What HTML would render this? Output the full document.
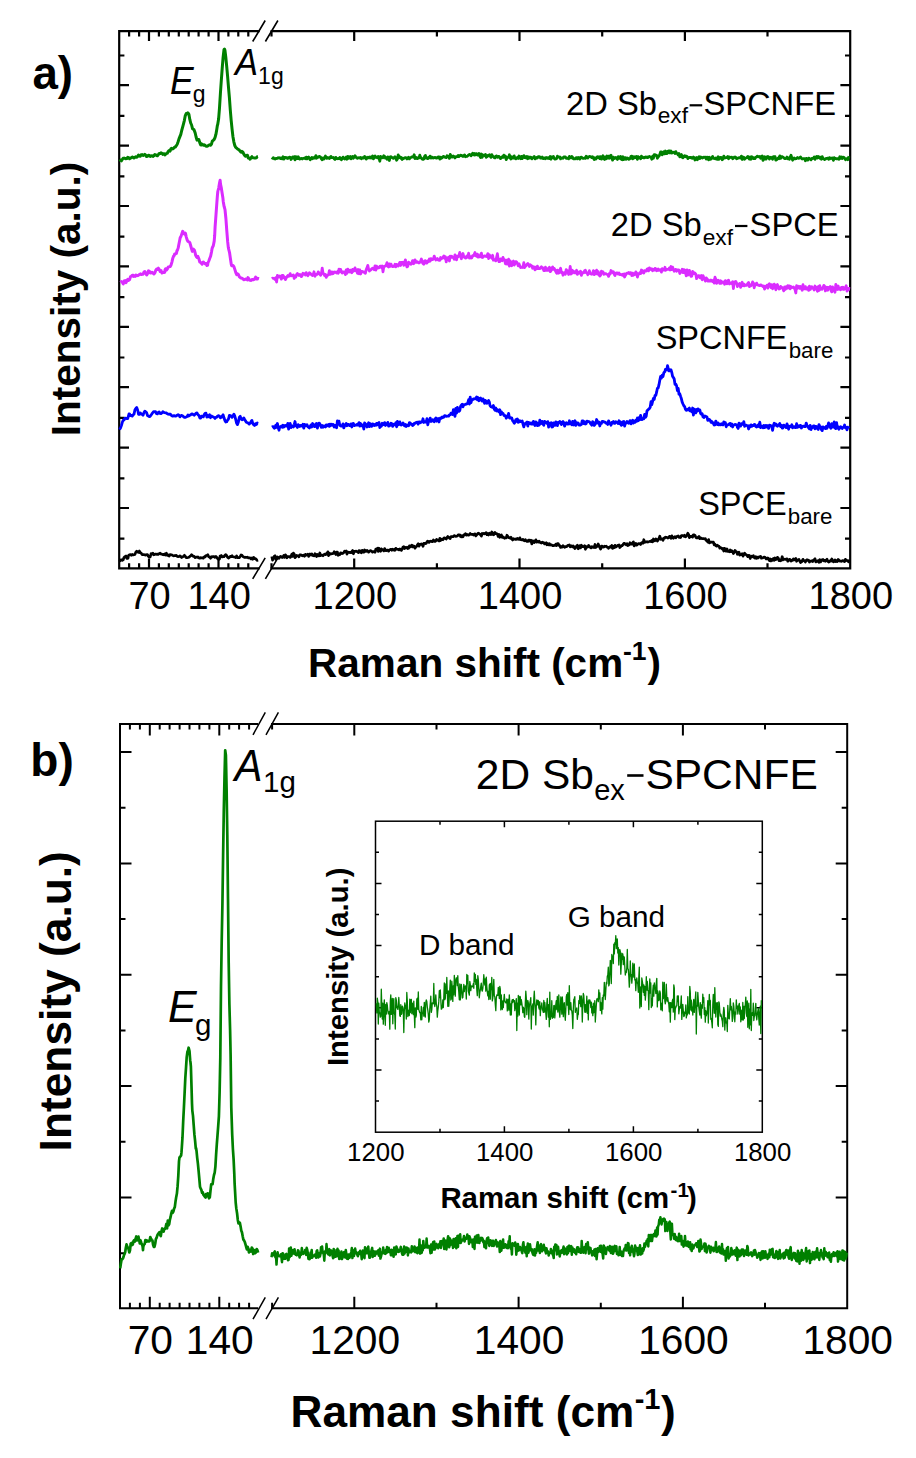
<!DOCTYPE html>
<html><head><meta charset="utf-8"><style>
html,body{margin:0;padding:0;background:#fff;}
svg{display:block;font-family:"Liberation Sans", sans-serif;}
</style></head><body>
<svg width="916" height="1458" viewBox="0 0 916 1458">
<rect width="916" height="1458" fill="#fff"/>
<path d="M258.6,31.2 H119.2 V568.4 H258.6 M271.6,31.2 H850.2 V568.4 H271.6" fill="none" stroke="#000" stroke-width="2.2" stroke-linecap="square"/>
<path d="M149.0,31.2 v9.8 M149.0,568.4 v-9.8 M218.5,31.2 v9.8 M218.5,568.4 v-9.8 M354.2,31.2 v9.8 M354.2,568.4 v-9.8 M519.5,31.2 v9.8 M519.5,568.4 v-9.8 M684.9,31.2 v9.8 M684.9,568.4 v-9.8 M129.1,31.2 v5.2 M129.1,568.4 v-5.2 M139.1,31.2 v5.2 M139.1,568.4 v-5.2 M158.9,31.2 v5.2 M158.9,568.4 v-5.2 M168.8,31.2 v5.2 M168.8,568.4 v-5.2 M178.8,31.2 v5.2 M178.8,568.4 v-5.2 M188.7,31.2 v5.2 M188.7,568.4 v-5.2 M198.6,31.2 v5.2 M198.6,568.4 v-5.2 M208.6,31.2 v5.2 M208.6,568.4 v-5.2 M228.4,31.2 v5.2 M228.4,568.4 v-5.2 M238.3,31.2 v5.2 M238.3,568.4 v-5.2 M248.3,31.2 v5.2 M248.3,568.4 v-5.2 M271.5,31.2 v5.2 M271.5,568.4 v-5.2 M436.9,31.2 v5.2 M436.9,568.4 v-5.2 M602.2,31.2 v5.2 M602.2,568.4 v-5.2 M767.5,31.2 v5.2 M767.5,568.4 v-5.2 M119.2,85.2 h9.8 M850.2,85.2 h-9.8 M119.2,145.6 h9.8 M850.2,145.6 h-9.8 M119.2,206.0 h9.8 M850.2,206.0 h-9.8 M119.2,266.4 h9.8 M850.2,266.4 h-9.8 M119.2,326.8 h9.8 M850.2,326.8 h-9.8 M119.2,387.2 h9.8 M850.2,387.2 h-9.8 M119.2,447.6 h9.8 M850.2,447.6 h-9.8 M119.2,508.0 h9.8 M850.2,508.0 h-9.8 M119.2,55.5 h5.2 M850.2,55.5 h-5.2 M119.2,115.9 h5.2 M850.2,115.9 h-5.2 M119.2,176.3 h5.2 M850.2,176.3 h-5.2 M119.2,236.7 h5.2 M850.2,236.7 h-5.2 M119.2,297.1 h5.2 M850.2,297.1 h-5.2 M119.2,357.5 h5.2 M850.2,357.5 h-5.2 M119.2,417.9 h5.2 M850.2,417.9 h-5.2 M119.2,478.3 h5.2 M850.2,478.3 h-5.2 M119.2,538.7 h5.2 M850.2,538.7 h-5.2" fill="none" stroke="#000" stroke-width="2.2"/>
<path d="M252.7,41.5 L265.2,20.5 M265.4,41.5 L277.9,20.5 M252.7,578.9 L265.2,557.9 M265.4,578.9 L277.9,557.9" fill="none" stroke="#000" stroke-width="1.6"/>
<polyline points="119.6,159.5 120.5,160.2 121.4,160.8 122.3,159.4 123.2,158.3 124.1,158.1 125.0,158.5 125.9,158.7 126.8,158.6 127.7,157.3 128.6,157.7 129.5,158.7 130.4,158.0 131.3,157.8 132.2,157.0 133.1,157.3 134.0,157.9 134.9,157.4 135.8,156.7 136.7,157.2 137.6,156.6 138.5,155.1 139.4,155.9 140.3,156.3 141.2,154.8 142.1,154.6 143.0,155.5 143.9,155.2 144.8,154.4 145.7,155.2 146.6,156.6 147.5,156.4 148.4,155.2 149.3,155.5 150.2,156.4 151.1,155.9 152.0,155.7 152.9,156.4 153.8,155.8 154.7,154.6 155.6,154.8 156.5,155.4 157.4,155.8 158.3,154.7 159.2,153.4 160.1,153.6 161.0,152.7 161.9,153.2 162.8,154.4 163.7,153.7 164.6,154.0 165.0,154.9 165.5,154.3 166.4,153.6 167.3,153.2 168.2,151.5 169.1,150.5 170.0,151.1 170.9,148.9 171.5,148.3 171.8,149.1 172.7,148.9 173.6,148.3 174.5,147.3 175.4,147.1 175.9,146.1 176.3,145.7 177.2,144.3 178.1,141.8 179.0,138.9 179.9,136.6 180.8,134.4 181.7,130.5 182.5,127.6 183.5,123.9 184.4,120.3 185.2,115.9 186.2,113.6 187.1,113.8 187.9,112.8 188.9,114.3 189.8,119.4 190.7,123.0 191.6,125.0 192.5,128.7 193.4,129.3 193.9,129.4 194.3,130.5 195.2,133.0 196.1,137.0 197.0,140.1 197.8,139.5 198.8,139.5 199.7,142.4 200.6,144.8 201.0,145.0 201.5,143.9 202.4,144.3 203.3,145.3 204.2,145.3 204.5,144.9 205.1,145.4 206.0,146.3 206.9,146.2 207.8,146.0 208.7,145.2 209.6,144.7 210.5,145.3 211.4,144.3 212.3,141.2 213.2,140.4 214.1,139.5 215.0,137.6 215.9,134.4 216.8,129.2 217.4,125.3 217.7,124.6 218.6,119.1 219.5,107.8 220.4,93.5 221.3,80.5 221.8,73.9 222.2,68.4 223.1,57.4 224.0,49.6 224.5,49.1 224.9,50.0 225.8,57.1 226.7,66.3 227.6,76.4 228.5,87.4 229.4,97.7 230.3,110.0 231.2,120.7 232.1,129.4 232.7,134.6 233.0,137.0 233.9,142.1 234.8,145.5 235.7,147.4 236.6,148.1 237.0,148.3 237.5,149.0 238.4,149.5 239.3,150.1 240.2,151.3 241.1,152.3 241.4,152.3 242.0,151.4 242.9,152.1 243.8,154.1 244.7,155.5 245.6,156.2 246.5,155.6 247.4,155.2 248.0,157.0 248.3,158.0 249.2,158.1 250.1,159.2 251.0,157.7 251.9,156.7 252.8,157.7 253.7,157.9 254.6,158.1 255.5,158.0 256.4,157.8 257.3,156.7 258.0,156.5" fill="none" stroke="#008000" stroke-width="3.0" stroke-linejoin="round"/>
<polyline points="271.8,157.5 272.6,158.3 273.4,157.7 274.2,158.8 275.0,159.0 275.8,158.5 276.6,158.5 277.4,158.3 278.2,157.7 279.0,158.0 279.8,157.7 280.6,158.6 281.4,158.2 282.2,158.8 283.0,156.8 283.8,159.1 284.6,157.4 285.4,157.4 286.2,158.0 287.0,157.6 287.8,158.4 288.6,157.6 289.4,157.1 290.2,157.3 291.0,159.5 291.8,158.2 292.6,157.0 293.4,158.1 294.2,156.6 295.0,159.9 295.8,156.6 296.6,158.6 297.4,158.7 298.2,156.7 299.0,158.4 299.8,159.1 300.6,158.6 301.4,158.4 302.2,159.0 303.0,158.3 303.8,158.4 304.6,158.0 305.4,158.7 306.2,157.1 307.0,158.9 307.8,157.6 308.6,157.0 309.4,158.4 310.2,159.7 311.0,159.0 311.8,157.5 312.6,158.7 313.4,157.6 314.2,157.9 315.0,158.1 315.8,155.7 316.6,158.2 317.4,157.0 318.2,157.3 319.0,156.5 319.8,156.5 320.6,157.1 321.4,158.8 322.2,159.7 323.0,158.0 323.8,159.1 324.6,157.7 325.4,156.0 326.2,158.1 327.0,158.4 327.8,157.5 328.6,158.2 329.4,158.5 330.2,157.0 331.0,156.4 331.8,157.7 332.6,157.7 333.4,157.5 334.2,158.8 335.0,159.6 335.8,157.4 336.6,158.5 337.4,158.8 338.2,158.5 339.0,158.8 339.8,157.4 340.6,158.5 341.4,159.8 342.2,158.6 343.0,157.1 343.8,158.3 344.6,159.0 345.4,158.1 346.2,157.1 347.0,159.2 347.8,156.4 348.6,158.2 349.4,157.7 350.2,156.5 351.0,158.9 351.8,158.0 352.6,156.5 353.4,158.2 354.2,157.2 355.0,155.7 355.8,156.9 356.6,157.9 357.4,158.3 358.2,157.8 359.0,157.7 359.8,158.1 360.6,157.4 361.4,158.8 362.2,157.7 363.0,157.9 363.8,158.1 364.6,156.5 365.4,156.9 366.2,159.1 367.0,157.9 367.8,157.3 368.6,157.9 369.4,157.1 370.2,157.9 371.0,156.9 371.8,157.9 372.6,156.0 373.4,158.9 374.2,157.1 375.0,156.0 375.8,157.4 376.6,157.2 377.4,157.8 378.2,156.5 379.0,158.0 379.8,161.2 380.6,156.3 381.4,157.9 382.2,157.3 383.0,157.8 383.8,155.8 384.6,156.4 385.4,158.1 386.2,157.6 387.0,159.2 387.8,156.9 388.6,157.8 389.4,160.5 390.2,156.8 391.0,156.7 391.8,157.6 392.6,157.6 393.4,158.4 394.2,157.7 395.0,156.8 395.8,157.8 396.6,160.2 397.4,158.9 398.2,154.8 399.0,157.5 399.8,156.7 400.6,158.2 401.4,157.4 402.2,159.5 403.0,158.5 403.8,158.5 404.6,157.8 405.4,157.6 406.2,157.9 407.0,158.9 407.8,158.1 408.6,157.2 409.4,158.9 410.2,157.8 411.0,157.5 411.8,156.8 412.6,157.0 413.4,157.0 414.2,154.8 415.0,158.6 415.8,158.2 416.6,157.4 417.4,158.6 418.2,158.0 419.0,158.0 419.8,155.1 420.6,157.4 421.4,158.1 422.2,159.2 423.0,159.4 423.8,159.0 424.6,156.4 425.4,155.4 426.2,158.2 427.0,157.6 427.8,158.6 428.6,157.5 429.4,157.8 430.0,156.1 431.0,158.0 431.8,157.1 432.6,157.9 433.4,158.0 434.2,157.4 435.0,157.8 435.8,157.5 436.6,158.2 437.4,158.0 438.2,156.9 439.0,156.8 439.8,159.1 440.6,157.2 441.4,158.3 442.2,157.6 443.0,156.6 443.8,156.4 444.6,157.2 445.4,157.3 446.2,157.6 447.0,155.7 447.8,156.3 448.6,156.7 449.4,158.4 450.2,154.4 451.0,157.1 451.8,156.1 452.6,157.0 453.4,156.0 454.2,156.8 455.0,157.9 455.8,156.7 456.6,156.7 457.4,156.6 458.2,155.4 459.0,156.6 459.8,155.8 460.6,155.1 461.4,155.8 462.2,155.6 463.0,156.4 463.8,155.5 464.6,154.9 465.4,156.8 466.2,156.3 467.0,156.4 467.8,155.7 468.6,154.9 469.4,154.5 470.2,154.6 471.0,155.8 471.8,154.9 472.6,153.3 473.4,154.8 474.2,153.4 475.0,155.1 475.8,153.7 476.6,153.7 477.4,155.2 478.2,155.1 479.0,153.5 479.8,156.0 480.6,157.5 481.4,154.0 482.2,157.4 483.0,155.0 483.8,155.2 484.6,155.6 485.4,154.5 486.2,157.3 487.0,156.6 487.8,155.4 488.6,155.9 489.4,154.7 490.0,156.0 491.0,157.3 491.8,154.7 492.6,156.0 493.4,156.6 494.2,157.6 495.0,157.9 495.8,156.2 496.6,155.9 497.4,157.2 498.2,156.4 499.0,156.5 499.8,157.9 500.6,158.6 501.4,157.2 502.2,156.8 503.0,157.6 503.8,155.2 504.6,157.1 505.4,156.1 506.2,159.6 507.0,157.9 507.8,157.4 508.6,157.1 509.4,154.8 510.2,158.1 511.0,159.0 511.8,156.7 512.6,158.1 513.4,158.2 514.2,155.9 515.0,158.4 515.8,158.9 516.6,157.8 517.4,157.5 518.2,158.4 519.0,156.0 519.8,157.7 520.6,158.7 521.4,156.4 522.2,158.6 523.0,157.2 523.8,155.6 524.6,157.5 525.4,156.7 526.2,158.0 527.0,156.5 527.8,158.7 528.6,156.9 529.4,158.0 530.2,157.1 531.0,157.4 531.8,158.9 532.6,157.9 533.4,157.3 534.2,156.5 535.0,158.9 535.8,158.5 536.6,157.4 537.4,158.0 538.2,156.7 539.0,156.7 539.8,156.9 540.6,158.1 541.4,158.0 542.2,157.0 543.0,158.5 543.8,158.5 544.6,157.9 545.4,158.8 546.2,157.5 547.0,157.7 547.8,158.3 548.6,157.7 549.4,158.6 550.2,156.5 551.0,159.2 551.8,157.0 552.6,157.6 553.4,156.4 554.2,158.4 555.0,159.1 555.8,158.9 556.6,158.6 557.4,156.2 558.2,157.0 559.0,157.3 559.8,156.9 560.6,158.9 561.4,158.0 562.2,157.8 563.0,158.3 563.8,156.8 564.6,156.9 565.4,156.9 566.2,158.3 567.0,158.1 567.8,158.4 568.6,158.9 569.4,156.4 570.2,157.2 571.0,157.9 571.8,156.5 572.6,157.3 573.4,158.8 574.2,158.9 575.0,158.9 575.8,157.8 576.6,157.6 577.4,158.9 578.2,157.4 579.0,158.1 579.8,159.1 580.6,157.4 581.4,157.2 582.2,157.8 583.0,158.4 583.8,158.3 584.6,158.0 585.4,158.4 586.2,156.2 587.0,156.9 587.8,158.0 588.6,156.9 589.4,156.5 590.2,156.6 591.0,156.9 591.8,157.6 592.6,156.8 593.4,158.0 594.2,159.5 595.0,157.7 595.8,159.1 596.6,158.1 597.4,156.7 598.2,157.5 599.0,156.8 599.8,158.6 600.6,156.6 601.4,159.1 602.2,158.4 603.0,155.8 603.8,158.6 604.6,159.4 605.4,157.0 606.2,158.8 607.0,156.0 607.8,158.1 608.6,156.1 609.4,158.3 610.2,156.0 611.0,155.2 611.8,158.2 612.6,160.1 613.4,157.2 614.2,158.6 615.0,157.9 615.8,157.5 616.6,158.4 617.4,159.4 618.2,156.6 619.0,158.4 619.8,158.1 620.6,156.4 621.4,159.4 622.2,159.7 623.0,156.8 623.8,159.5 624.6,157.9 625.4,157.6 626.2,159.3 627.0,158.0 627.8,158.1 628.6,159.3 629.4,159.1 630.0,158.7 631.0,156.4 631.8,156.2 632.6,158.9 633.4,156.8 634.2,157.9 635.0,156.7 635.8,157.5 636.6,156.4 637.4,159.3 638.2,156.6 639.0,157.5 639.8,157.4 640.6,158.8 641.4,156.1 642.2,157.5 643.0,157.2 643.8,157.9 644.6,157.8 645.4,156.9 646.2,157.5 647.0,156.9 647.8,157.6 648.6,157.0 649.4,156.4 650.2,157.0 651.0,157.3 651.8,159.2 652.6,156.3 653.0,157.1 653.4,158.2 654.2,154.6 655.0,154.7 655.8,155.1 656.6,155.9 657.4,158.2 658.2,155.8 659.0,156.3 659.8,154.5 660.6,151.9 661.4,151.8 662.2,154.8 663.0,153.6 663.8,151.8 664.6,153.9 665.4,151.0 666.2,153.5 667.0,153.6 667.8,151.3 668.6,150.9 669.0,152.8 669.4,150.9 670.2,152.9 671.0,151.0 671.8,153.1 672.6,152.6 673.4,152.3 674.2,152.1 675.0,153.5 675.8,151.6 676.6,153.5 677.4,153.7 678.2,155.1 679.0,153.5 679.8,156.8 680.6,155.1 681.4,154.5 682.2,157.3 683.0,157.8 683.8,156.2 684.6,155.7 685.4,156.7 686.0,156.1 687.0,156.6 687.8,158.6 688.6,157.5 689.4,157.3 690.2,157.6 691.0,157.3 691.8,158.2 692.6,158.3 693.4,157.1 694.2,157.7 695.0,160.0 695.8,158.1 696.6,157.5 697.4,159.8 698.2,157.8 699.0,156.7 699.8,158.5 700.6,156.9 701.4,157.3 702.2,158.1 703.0,157.7 703.8,157.1 704.6,157.3 705.4,157.2 706.2,159.0 707.0,157.1 707.8,157.3 708.6,159.9 709.4,157.3 710.2,159.3 711.0,159.2 711.8,157.7 712.6,156.4 713.4,158.3 714.2,158.5 715.0,158.8 715.8,157.9 716.6,159.1 717.4,159.3 718.2,156.8 719.0,159.3 719.8,158.1 720.6,157.3 721.4,157.6 722.2,159.8 723.0,158.9 723.8,156.1 724.6,158.0 725.4,157.8 726.2,157.7 727.0,157.4 727.8,156.5 728.6,158.8 729.4,157.0 730.2,157.5 731.0,157.3 731.8,157.2 732.6,158.7 733.4,158.3 734.2,157.2 735.0,157.0 735.8,157.5 736.6,158.9 737.4,158.1 738.2,158.2 739.0,157.6 739.8,157.7 740.6,158.1 741.4,156.1 742.2,159.5 743.0,157.1 743.8,157.4 744.6,159.3 745.4,158.2 746.2,158.0 747.0,157.4 747.8,156.4 748.6,158.1 749.4,159.1 750.2,157.0 751.0,159.3 751.8,156.8 752.6,157.2 753.4,158.5 754.2,157.9 755.0,158.6 755.8,157.2 756.6,156.9 757.4,156.1 758.2,156.7 759.0,156.9 759.8,156.5 760.6,158.3 761.4,157.3 762.2,156.0 763.0,160.4 763.8,157.1 764.6,156.7 765.4,159.2 766.2,159.1 767.0,156.8 767.8,156.5 768.6,157.0 769.4,159.1 770.2,157.7 771.0,157.2 771.8,157.9 772.6,159.2 773.4,156.6 774.2,157.6 775.0,156.6 775.8,160.2 776.6,159.8 777.4,158.9 778.2,157.9 779.0,158.7 779.8,155.9 780.6,158.3 781.4,156.7 782.2,156.7 783.0,157.3 783.8,157.7 784.6,158.6 785.4,158.7 786.2,158.3 787.0,157.1 787.8,158.7 788.6,157.9 789.4,159.2 790.2,157.1 791.0,155.3 791.8,157.6 792.6,160.2 793.4,158.5 794.2,157.9 795.0,158.9 795.8,158.6 796.6,158.5 797.4,157.5 798.2,158.1 799.0,158.3 799.8,157.4 800.6,157.0 801.4,158.2 802.2,159.0 803.0,158.7 803.8,158.6 804.6,158.6 805.4,160.7 806.2,158.4 807.0,159.1 807.8,160.1 808.6,158.2 809.4,158.4 810.2,159.2 811.0,159.8 811.8,158.4 812.6,158.5 813.4,158.2 814.2,156.9 815.0,159.3 815.8,157.9 816.6,156.4 817.4,158.0 818.2,156.4 819.0,157.1 819.8,158.2 820.6,157.2 821.4,159.2 822.2,156.7 823.0,158.4 823.8,158.7 824.6,159.6 825.4,159.1 826.2,158.4 827.0,158.3 827.8,158.1 828.6,159.3 829.4,157.6 830.2,158.7 831.0,158.1 831.8,158.5 832.6,158.0 833.4,160.4 834.2,157.6 835.0,158.5 835.8,158.5 836.6,158.9 837.4,158.7 838.2,158.7 839.0,159.2 839.8,156.8 840.6,158.3 841.4,157.0 842.2,158.5 843.0,157.1 843.8,157.3 844.6,158.2 845.4,159.7 846.2,158.9 847.0,158.6 847.8,159.7 848.6,157.4 849.0,156.2" fill="none" stroke="#008000" stroke-width="2.8" stroke-linejoin="round"/>
<polyline points="120.6,282.6 121.5,281.6 122.4,282.4 123.3,283.9 124.2,280.9 125.1,280.6 126.0,282.7 126.9,280.8 127.8,279.2 128.7,280.3 129.6,279.6 130.5,276.6 131.4,276.3 132.3,275.2 133.2,275.3 133.6,276.4 134.1,276.1 135.0,276.4 135.9,275.0 136.8,275.7 137.7,275.6 138.6,275.1 139.5,274.5 140.4,273.9 141.3,274.6 142.2,274.2 143.1,274.2 144.0,272.1 144.9,271.5 145.8,273.5 146.7,275.0 147.6,273.4 148.5,270.8 149.4,271.3 150.3,272.9 151.2,272.9 152.0,272.2 153.0,273.1 153.9,274.0 154.8,273.0 155.7,270.4 156.6,269.1 157.5,269.4 158.4,268.2 159.3,269.6 160.2,271.5 161.1,270.6 161.4,271.9 162.0,273.0 162.9,272.4 163.8,272.6 164.7,272.3 165.0,269.9 165.6,268.7 166.5,270.1 167.4,268.9 168.3,266.9 169.2,266.8 170.1,266.6 171.0,265.2 171.9,262.1 172.8,258.2 173.7,255.9 174.3,255.5 174.6,254.0 175.5,253.8 176.4,253.4 177.0,250.6 177.3,250.6 178.2,247.9 179.1,243.3 180.0,238.7 180.3,237.4 180.9,236.6 181.8,233.9 182.7,231.3 183.6,233.0 184.5,234.1 185.4,233.2 186.3,237.1 187.2,240.0 187.9,241.4 189.0,241.8 189.9,242.8 190.8,246.0 191.7,249.4 192.3,251.4 192.6,250.1 193.5,249.2 194.4,250.2 195.3,253.4 195.6,255.2 196.2,256.4 197.1,257.4 197.8,256.3 198.9,258.9 199.8,262.0 200.7,262.6 201.6,263.6 202.1,264.1 202.5,262.7 203.4,262.0 204.3,263.1 205.2,263.9 206.1,263.6 207.0,265.5 207.6,265.2 207.9,263.0 208.8,261.0 209.7,258.5 210.6,256.3 211.5,252.0 212.0,249.0 212.4,247.5 213.3,245.8 214.2,241.1 214.7,235.2 215.1,226.8 216.0,214.7 216.9,202.2 217.4,195.7 217.8,191.5 218.7,188.0 219.6,182.5 220.1,180.2 220.5,184.1 221.4,188.4 222.3,194.2 222.9,197.9 223.2,201.2 224.1,206.4 225.0,209.7 225.9,218.5 226.8,230.8 227.7,241.9 228.3,247.3 228.6,248.9 229.5,252.3 230.4,258.5 231.3,264.5 231.6,265.7 232.2,265.6 233.1,265.5 234.0,266.9 234.9,269.6 235.8,272.6 236.7,274.6 237.6,273.9 238.5,274.7 239.4,276.9 240.3,277.6 241.2,278.1 242.1,278.2 243.0,279.1 243.9,279.7 244.8,279.6 245.7,279.0 246.6,279.3 247.5,279.9 248.0,277.6 248.4,278.2 249.3,279.9 250.2,280.3 251.1,280.4 252.0,279.4 252.9,279.7 253.8,279.7 254.7,278.9 255.6,277.1 256.5,279.1 257.4,279.0 258.0,276.8" fill="none" stroke="#DA2CFF" stroke-width="3.0" stroke-linejoin="round"/>
<polyline points="271.8,278.6 272.6,278.1 273.4,278.3 274.2,278.6 275.0,279.4 275.8,277.7 276.6,282.0 277.4,275.3 278.2,277.3 279.0,276.3 279.8,275.9 280.6,277.2 281.4,279.1 282.2,275.4 283.0,275.3 283.8,277.7 284.6,277.3 285.4,279.6 286.2,278.0 287.0,276.6 287.8,275.6 288.6,276.4 289.4,275.7 290.2,273.6 291.0,275.9 291.8,275.5 292.6,275.3 293.4,274.9 294.2,278.5 295.0,276.7 295.8,277.0 296.6,274.4 297.4,273.6 298.2,274.8 299.0,275.6 299.8,274.5 300.6,274.7 301.4,276.6 302.2,275.4 303.0,273.2 303.8,274.1 304.6,273.6 305.4,275.0 306.2,272.6 307.0,274.2 307.8,275.7 308.6,274.5 309.4,272.8 310.2,273.2 311.0,274.4 311.8,275.0 312.6,275.5 313.4,273.8 314.0,271.8 315.0,276.3 315.8,274.4 316.6,274.5 317.4,274.3 318.2,271.9 319.0,273.1 319.8,274.0 320.6,275.3 321.4,273.6 322.2,268.1 323.0,273.0 323.8,273.9 324.6,275.5 325.4,274.4 326.2,277.4 327.0,275.5 327.8,275.3 328.6,274.6 329.4,270.6 330.2,274.3 331.0,273.9 331.8,271.9 332.6,273.8 333.4,273.4 334.2,271.9 335.0,272.4 335.8,272.1 336.6,272.9 337.4,271.7 338.2,273.3 339.0,269.1 339.8,271.8 340.6,269.4 341.4,271.4 342.2,273.0 343.0,272.1 343.8,271.9 344.6,272.1 345.4,274.6 346.2,270.0 347.0,273.3 347.8,269.2 348.6,270.9 349.4,271.9 350.2,270.1 351.0,271.9 351.8,272.7 352.6,269.4 353.4,271.2 354.2,270.6 355.0,267.9 355.8,270.8 356.6,269.7 357.4,273.3 358.2,269.5 359.0,273.8 359.8,269.9 360.6,274.0 361.4,271.6 362.2,271.3 363.0,271.9 363.8,272.0 364.6,272.7 365.4,273.2 366.2,269.6 367.0,267.9 367.8,265.4 368.6,269.2 369.4,271.0 370.2,270.3 371.0,269.7 371.8,268.8 372.6,268.2 373.4,268.7 374.2,269.7 375.0,265.9 375.8,270.1 376.6,266.2 377.4,268.3 378.2,267.4 379.0,267.7 379.8,266.4 380.6,266.1 381.4,267.5 382.2,265.9 383.0,271.8 383.8,266.8 384.6,266.2 385.4,266.2 386.2,265.2 387.0,262.7 387.8,266.3 388.6,267.1 389.4,263.9 390.2,266.3 391.0,264.1 391.8,266.0 392.6,266.5 393.4,266.5 394.2,266.3 395.0,264.2 395.8,266.8 396.6,264.4 397.4,265.6 398.2,266.0 399.0,264.2 399.8,262.4 400.6,265.5 401.4,262.4 402.2,262.6 403.0,262.1 403.8,265.3 404.6,263.5 405.4,259.8 406.2,264.7 407.0,266.9 407.8,266.3 408.6,262.1 409.4,263.1 410.2,263.7 411.0,264.2 411.8,262.7 412.6,260.6 413.4,263.7 414.2,263.3 415.0,259.9 415.8,261.4 416.6,262.4 417.4,261.8 418.2,262.6 419.0,263.0 419.8,262.4 420.6,261.2 421.4,259.0 422.2,262.2 423.0,263.5 423.8,264.3 424.6,260.8 425.4,260.7 426.2,263.1 427.0,263.0 427.8,261.0 428.6,261.6 429.4,259.0 430.2,261.1 431.0,258.6 431.8,259.7 432.6,259.6 433.4,259.0 434.2,256.1 435.0,258.2 435.8,260.0 436.6,259.3 437.4,258.6 438.2,259.9 439.0,260.3 439.8,260.4 440.6,257.5 441.4,258.8 442.2,258.1 443.0,257.1 443.8,256.0 444.6,258.3 445.4,256.8 446.2,261.9 447.0,258.0 447.8,257.7 448.6,257.3 449.4,261.0 450.2,256.2 451.0,257.4 451.8,256.3 452.6,257.3 453.4,257.3 454.2,259.2 455.0,254.8 455.8,257.1 456.6,259.8 457.4,256.2 458.2,256.6 459.0,255.4 459.8,252.4 460.6,256.6 461.4,258.7 462.0,255.9 463.0,253.5 463.8,257.0 464.6,256.6 465.4,258.2 466.2,258.0 467.0,255.9 467.8,257.0 468.6,253.2 469.4,258.1 470.2,256.5 471.0,258.0 471.8,257.9 472.6,255.6 473.4,255.8 474.2,254.5 475.0,252.5 475.8,255.8 476.6,256.2 477.4,254.1 478.0,257.2 479.0,256.2 479.8,256.8 480.6,254.8 481.4,253.1 482.2,257.5 483.0,257.3 483.8,256.2 484.6,255.8 485.4,256.2 486.2,256.5 487.0,256.0 487.8,253.6 488.6,258.5 489.4,254.8 490.2,257.0 491.0,257.2 491.8,258.3 492.6,255.3 493.4,260.2 494.2,259.4 495.0,259.8 495.8,260.8 496.6,257.4 497.4,253.7 498.2,259.7 499.0,261.6 499.8,261.6 500.6,258.9 501.4,259.9 502.2,260.7 503.0,257.4 503.8,259.5 504.6,259.8 505.4,263.8 506.2,260.2 507.0,264.2 507.8,261.8 508.6,259.2 509.4,266.0 510.2,260.8 511.0,263.6 511.8,265.7 512.6,262.1 513.4,261.1 514.2,265.1 515.0,263.6 515.8,261.6 516.6,262.0 517.4,263.4 518.2,265.9 519.0,263.9 519.8,265.7 520.6,267.5 521.4,267.1 522.2,267.5 523.0,267.3 523.8,262.7 524.6,267.6 525.4,266.3 526.2,265.7 527.0,264.2 527.8,263.5 528.6,264.5 529.4,266.5 530.2,264.7 531.0,265.4 531.8,265.9 532.6,268.2 533.4,266.7 534.2,267.1 535.0,269.8 535.8,267.1 536.6,268.8 537.4,266.1 538.2,268.6 539.0,268.4 539.8,268.6 540.6,267.6 541.4,266.8 542.2,268.2 543.0,268.0 543.8,270.7 544.6,270.6 545.4,267.2 546.2,270.4 547.0,268.6 547.8,270.4 548.6,268.9 549.4,267.3 550.2,271.7 551.0,270.8 551.8,268.1 552.6,267.0 553.4,269.4 554.2,268.4 555.0,269.9 555.8,271.7 556.6,273.2 557.4,270.2 558.2,273.2 559.0,272.9 559.8,270.2 560.6,268.2 561.4,272.6 562.2,272.2 563.0,275.2 563.8,273.7 564.6,272.6 565.4,274.2 566.2,269.6 567.0,271.8 567.8,271.0 568.6,274.5 569.4,272.6 570.2,266.4 571.0,274.0 571.8,270.2 572.6,273.1 573.4,271.0 574.2,272.3 575.0,273.0 575.8,272.2 576.6,270.3 577.4,274.4 578.2,272.7 579.0,272.0 579.8,273.3 580.6,271.2 581.4,275.4 582.2,272.6 583.0,272.8 583.8,272.8 584.6,270.7 585.4,270.3 586.2,272.7 587.0,273.0 587.8,274.7 588.6,273.2 589.4,270.7 590.0,273.4 591.0,274.0 591.8,274.3 592.6,273.2 593.4,270.6 594.2,274.7 595.0,271.5 595.8,273.8 596.6,270.2 597.4,274.2 598.2,271.6 599.0,274.8 599.8,276.1 600.6,275.1 601.4,271.2 602.2,271.6 603.0,271.8 603.8,274.4 604.6,273.9 605.4,273.6 606.2,273.9 607.0,274.4 607.8,274.6 608.6,276.4 609.4,273.5 610.2,274.0 611.0,270.5 611.8,271.4 612.6,272.5 613.4,271.7 614.2,274.2 615.0,275.6 615.8,273.1 616.6,273.0 617.4,273.0 618.2,274.1 619.0,273.0 619.8,274.7 620.6,274.5 621.4,274.6 622.2,275.3 623.0,274.1 623.8,274.2 624.6,277.0 625.0,273.9 625.4,275.4 626.2,274.1 627.0,273.2 627.8,273.1 628.6,272.5 629.4,273.8 630.2,272.7 631.0,272.9 631.8,275.6 632.6,273.2 633.4,275.2 634.2,273.6 635.0,274.5 635.8,271.9 636.6,273.0 637.4,277.1 638.2,273.9 639.0,274.1 639.8,272.6 640.6,273.6 641.4,270.0 642.2,270.4 643.0,272.5 643.8,273.0 644.6,270.8 645.0,271.2 645.4,270.8 646.2,271.0 647.0,269.2 647.8,268.7 648.6,270.9 649.4,267.9 650.2,269.1 651.0,269.5 651.8,268.8 652.6,270.8 653.4,269.5 654.2,270.1 655.0,268.4 655.8,268.7 656.6,270.7 657.4,270.4 658.2,268.9 659.0,270.2 659.8,269.8 660.6,269.7 661.4,272.1 662.2,268.7 663.0,270.0 663.8,270.0 664.6,268.9 665.0,267.3 665.4,270.4 666.2,269.7 667.0,269.4 667.8,269.4 668.6,269.4 669.4,267.9 670.2,270.0 671.0,266.5 671.8,269.6 672.6,267.2 673.4,269.3 674.2,271.2 675.0,269.7 675.8,269.4 676.6,271.2 677.4,270.0 678.2,269.9 679.0,270.1 679.8,273.5 680.6,272.1 681.4,272.0 682.2,269.3 683.0,272.6 683.8,269.6 684.6,272.8 685.4,270.3 686.2,275.8 687.0,269.8 687.8,275.0 688.6,274.5 689.4,270.4 690.2,273.3 691.0,276.4 691.8,276.1 692.6,271.5 693.4,273.7 694.2,272.8 695.0,273.3 695.8,274.2 696.6,278.7 697.4,276.0 698.2,275.7 699.0,275.7 699.8,277.7 700.6,278.0 701.4,275.5 702.2,279.8 703.0,275.7 703.8,277.3 704.6,278.8 705.4,281.1 706.2,277.8 707.0,279.1 707.8,281.1 708.6,280.1 709.4,281.2 710.2,281.2 711.0,280.1 711.8,280.9 712.6,281.6 713.4,280.2 714.2,283.1 715.0,277.2 715.8,279.2 716.6,283.4 717.4,281.8 718.2,280.2 719.0,282.1 719.8,283.4 720.6,280.8 721.4,283.2 722.2,281.8 723.0,281.9 723.8,282.1 724.6,284.3 725.4,280.6 726.2,282.0 727.0,283.8 727.8,280.7 728.6,280.2 729.4,284.0 730.2,283.1 731.0,283.0 731.8,283.6 732.6,281.8 733.4,288.5 734.2,281.9 735.0,283.0 735.8,281.4 736.6,283.2 737.4,286.6 738.2,284.1 739.0,285.1 739.8,283.4 740.6,287.4 741.4,284.7 742.2,282.3 743.0,285.8 743.8,284.0 744.6,285.7 745.4,285.0 746.2,285.3 747.0,285.1 747.8,283.4 748.6,282.5 749.4,286.7 750.2,284.9 751.0,285.7 751.8,284.5 752.6,281.9 753.4,283.2 754.2,287.8 755.0,284.2 755.8,284.9 756.6,283.1 757.4,284.8 758.2,285.1 759.0,285.4 759.8,285.7 760.6,284.8 761.4,285.0 762.2,286.0 763.0,286.6 763.8,285.9 764.6,289.1 765.4,286.5 766.2,286.5 767.0,285.2 767.8,288.1 768.6,284.6 769.4,283.7 770.2,284.8 771.0,287.6 771.8,284.6 772.6,288.8 773.4,286.6 774.2,284.1 775.0,286.3 775.8,289.8 776.6,285.3 777.4,284.6 778.2,287.7 779.0,289.1 779.8,288.7 780.6,286.4 781.4,287.3 782.2,287.6 783.0,289.1 783.8,290.8 784.6,287.0 785.4,289.4 786.2,286.7 787.0,288.3 787.8,285.7 788.6,286.1 789.0,288.1 789.4,285.9 790.2,288.9 791.0,286.5 791.8,287.6 792.6,287.4 793.4,287.0 794.2,287.9 795.0,289.5 795.8,293.0 796.6,285.7 797.4,288.3 798.2,287.5 799.0,286.3 799.8,288.4 800.6,286.5 801.4,287.9 802.2,290.2 803.0,284.7 803.8,288.6 804.6,288.9 805.4,286.6 806.2,289.1 807.0,288.9 807.8,287.7 808.6,290.4 809.4,286.2 810.2,289.5 811.0,288.1 811.8,286.7 812.6,288.2 813.4,287.9 814.2,290.0 815.0,286.0 815.8,288.3 816.6,287.8 817.4,291.3 818.2,286.7 819.0,290.5 819.8,285.7 820.6,289.3 821.4,288.4 822.0,289.3 823.0,287.5 823.8,285.4 824.6,286.0 825.4,290.9 826.2,289.0 827.0,287.2 827.8,290.2 828.6,287.4 829.4,287.4 830.2,286.6 831.0,290.6 831.8,291.9 832.6,287.0 833.4,289.1 834.2,290.2 835.0,292.2 835.8,284.5 836.6,288.8 837.4,289.6 838.2,286.0 839.0,289.2 839.8,288.8 840.6,289.7 841.4,287.4 842.2,289.1 843.0,287.3 843.8,289.4 844.6,288.6 845.4,287.6 846.2,285.8 847.0,291.0 847.8,290.1 848.6,289.7 849.0,287.0" fill="none" stroke="#DA2CFF" stroke-width="2.8" stroke-linejoin="round"/>
<polyline points="119.6,429.6 120.5,428.1 121.4,425.6 122.3,422.3 123.2,420.3 124.1,419.9 125.0,418.1 125.9,418.4 126.8,418.5 127.7,418.6 128.6,415.3 129.0,413.9 129.5,413.8 130.4,415.7 131.3,415.5 132.2,416.1 133.1,414.9 134.0,414.2 134.9,410.0 135.8,408.4 136.7,407.5 137.6,410.0 138.0,411.5 138.5,414.3 139.4,414.4 140.3,413.0 141.2,414.0 142.1,414.3 143.0,415.2 143.9,412.7 144.8,411.1 145.7,412.0 146.6,412.6 147.5,415.5 148.4,416.0 149.3,416.6 150.2,416.3 151.1,415.0 152.0,413.7 152.9,412.5 153.8,411.6 154.7,411.9 155.6,411.7 156.5,413.7 157.4,413.9 158.3,412.5 159.2,411.9 160.1,413.5 161.0,413.7 161.9,413.0 162.8,411.7 163.7,412.4 164.6,412.7 165.5,412.8 166.4,412.9 167.3,413.8 168.2,414.2 169.1,414.3 170.0,414.0 170.9,414.7 171.8,415.8 172.7,416.2 173.6,415.7 174.5,415.7 175.4,416.2 176.3,415.9 177.2,415.2 178.1,414.7 179.0,415.2 179.9,416.9 180.8,415.7 181.7,415.3 182.6,415.9 183.5,416.7 184.4,417.4 185.3,417.3 186.2,417.0 187.1,416.5 188.0,414.9 188.9,416.0 189.8,415.2 190.7,414.9 191.6,413.9 192.5,413.9 193.4,414.8 194.3,415.2 195.2,414.1 196.1,413.1 197.0,413.0 197.9,414.6 198.8,415.3 199.7,417.6 200.0,418.2 200.6,418.1 201.5,416.2 202.4,416.5 203.3,416.9 204.2,414.6 205.1,413.4 206.0,413.2 206.9,417.1 207.8,415.4 208.7,416.9 209.6,414.8 210.5,417.7 211.4,416.0 212.3,416.5 213.2,416.8 214.1,417.4 215.0,418.4 215.9,417.4 216.8,417.1 217.7,416.0 218.6,415.7 219.5,416.2 220.4,417.9 221.3,417.4 222.2,416.0 223.1,414.8 224.0,417.8 224.9,420.5 225.8,422.0 226.7,421.7 227.6,420.1 228.5,419.0 229.4,415.3 230.3,415.5 231.2,416.1 232.1,417.3 233.0,416.0 233.9,414.2 234.8,416.1 235.7,419.4 236.6,423.3 237.5,424.6 238.4,422.1 239.3,417.4 240.2,416.3 241.1,418.9 242.0,419.7 242.9,419.2 243.8,417.9 244.7,419.7 245.0,420.0 245.6,421.1 246.5,422.3 247.4,422.7 248.3,423.1 249.2,424.1 250.1,423.2 251.0,421.6 251.9,420.4 252.8,423.4 253.7,424.8 254.6,425.5 255.5,423.6 256.4,424.5 257.3,423.0 258.0,423.4" fill="none" stroke="#0000FF" stroke-width="2.8" stroke-linejoin="round"/>
<polyline points="271.8,427.1 272.6,426.7 273.4,426.7 274.2,428.2 275.0,427.7 275.8,425.2 276.6,427.4 277.4,423.5 278.2,427.5 279.0,430.2 279.8,426.8 280.6,426.8 281.4,426.1 282.2,427.3 283.0,425.3 283.8,427.0 284.6,425.6 285.4,425.4 286.2,426.2 287.0,425.9 287.8,423.4 288.6,429.1 289.4,426.2 290.2,423.4 291.0,427.6 291.8,425.9 292.6,426.2 293.4,427.0 294.2,424.6 295.0,421.5 295.8,425.7 296.6,426.3 297.4,427.4 298.2,424.7 299.0,425.5 299.8,426.5 300.6,425.4 301.4,425.5 302.2,426.2 303.0,424.3 303.8,428.2 304.6,424.4 305.4,425.8 306.2,425.3 307.0,424.7 307.8,426.6 308.6,427.3 309.4,427.9 310.2,426.6 311.0,425.0 311.8,427.0 312.6,423.5 313.4,425.8 314.2,426.5 315.0,426.5 315.8,423.9 316.6,423.4 317.4,428.1 318.2,424.8 319.0,423.1 319.8,423.7 320.6,425.6 321.4,427.3 322.2,425.5 323.0,427.3 323.8,425.9 324.6,426.2 325.4,427.0 326.2,424.9 327.0,425.9 327.8,424.9 328.6,424.5 329.4,426.4 330.0,424.2 331.0,425.5 331.8,424.2 332.6,425.3 333.4,424.6 334.2,427.0 335.0,425.5 335.8,425.5 336.6,427.8 337.4,421.0 338.2,423.6 339.0,421.2 339.8,425.3 340.6,425.9 341.4,426.2 342.2,425.7 343.0,423.9 343.8,427.9 344.6,425.7 345.4,424.8 346.2,423.5 347.0,425.8 347.8,424.5 348.6,424.5 349.4,425.5 350.2,425.5 351.0,423.9 351.8,427.0 352.6,423.6 353.4,423.5 354.2,425.6 355.0,425.3 355.8,425.2 356.6,424.5 357.4,425.1 358.2,424.2 359.0,422.6 359.8,426.2 360.6,423.5 361.4,424.7 362.2,426.1 363.0,425.1 363.8,429.1 364.6,422.9 365.4,423.9 366.2,425.1 367.0,427.0 367.8,424.6 368.6,422.8 369.4,426.7 370.2,423.6 371.0,424.6 371.8,426.3 372.6,423.9 373.4,424.2 374.2,425.6 375.0,424.6 375.8,425.3 376.6,423.4 377.4,424.7 378.2,423.2 379.0,422.5 379.8,427.5 380.6,425.5 381.4,426.2 382.2,423.3 383.0,424.7 383.8,424.4 384.6,422.6 385.4,425.5 386.2,423.6 387.0,424.4 387.8,422.4 388.6,426.2 389.4,425.8 390.2,425.2 391.0,423.3 391.8,423.8 392.6,426.4 393.4,424.2 394.2,424.9 395.0,424.7 395.8,422.8 396.6,426.8 397.4,421.5 398.2,424.8 399.0,424.3 399.8,421.9 400.6,424.8 401.4,425.1 402.2,424.3 403.0,422.9 403.8,424.8 404.6,425.8 405.4,424.4 406.2,426.5 407.0,425.2 407.8,425.0 408.6,425.8 409.4,422.7 410.2,422.8 411.0,424.3 411.8,424.2 412.6,425.6 413.4,425.0 414.2,423.5 415.0,423.4 415.8,422.6 416.6,422.4 417.4,422.2 418.2,424.1 419.0,421.9 419.8,422.0 420.6,422.7 421.4,421.6 422.2,421.9 423.0,418.8 423.8,422.5 424.6,421.4 425.4,422.0 426.2,422.1 427.0,418.6 427.8,424.8 428.6,421.3 429.4,421.2 430.2,418.1 431.0,421.5 431.8,421.0 432.6,419.7 433.4,420.4 434.2,421.7 435.0,419.1 435.8,418.0 436.6,421.2 437.4,419.4 438.2,418.5 439.0,422.0 439.8,418.5 440.6,417.8 441.4,418.2 442.2,416.9 443.0,417.5 443.8,417.2 444.6,415.6 445.4,415.9 446.2,416.4 447.0,416.2 447.8,416.2 448.6,416.1 449.4,414.9 450.2,414.9 451.0,413.2 451.8,413.0 452.6,414.5 453.4,409.6 454.2,412.7 455.0,416.4 455.8,408.4 456.6,413.0 457.4,407.5 458.2,410.1 459.0,411.4 459.8,410.5 460.6,406.3 461.4,405.1 462.2,404.2 463.0,406.8 463.8,404.6 464.6,404.6 465.4,404.4 466.2,404.1 467.0,403.9 467.8,402.8 468.6,399.8 469.4,404.0 470.2,397.2 471.0,402.7 471.8,399.6 472.6,399.8 473.4,398.9 474.2,398.8 475.0,399.0 475.8,398.4 476.6,397.0 477.4,399.9 478.0,397.7 479.0,400.7 479.8,398.6 480.6,398.0 481.4,400.1 482.2,401.1 483.0,398.9 483.8,400.3 484.6,403.4 485.4,400.4 486.2,401.2 487.0,403.3 487.8,401.8 488.6,400.5 489.4,402.2 490.0,405.6 491.0,406.7 491.8,407.1 492.6,407.3 493.4,405.5 494.2,408.9 495.0,410.2 495.8,408.0 496.6,411.0 497.4,409.7 498.2,411.1 499.0,411.9 499.8,409.7 500.6,414.7 501.4,411.8 502.2,413.4 503.0,413.3 503.8,415.2 504.6,415.7 505.4,415.6 506.2,418.2 507.0,417.1 507.8,416.6 508.6,413.3 509.4,417.7 510.2,418.2 511.0,417.7 511.8,418.1 512.6,420.7 513.4,421.7 514.2,423.2 515.0,422.3 515.8,419.7 516.6,421.3 517.4,419.0 518.2,422.3 519.0,421.9 519.8,420.6 520.6,421.5 521.4,421.4 522.2,421.0 523.0,424.1 523.8,426.9 524.6,423.6 525.4,424.0 526.2,422.8 527.0,422.1 527.8,426.1 528.6,422.3 529.4,423.5 530.2,422.9 531.0,424.0 531.8,423.1 532.6,424.1 533.4,421.4 534.2,423.2 535.0,425.5 535.8,421.9 536.6,422.5 537.4,425.6 538.2,424.2 539.0,425.2 539.8,420.2 540.6,423.8 541.4,421.6 542.2,421.5 543.0,424.2 543.8,425.3 544.6,421.3 545.4,421.9 546.2,422.7 547.0,423.4 547.8,421.6 548.6,427.0 549.4,424.4 550.2,423.0 551.0,422.8 551.8,427.0 552.6,426.9 553.4,422.8 554.2,424.1 555.0,425.4 555.8,421.8 556.6,422.7 557.4,425.6 558.2,422.5 559.0,422.9 559.8,421.5 560.6,422.4 561.4,424.6 562.2,422.3 563.0,421.6 563.8,422.6 564.6,426.2 565.4,423.8 566.2,422.7 567.0,423.7 567.8,424.2 568.6,423.7 569.4,420.8 570.2,423.9 571.0,423.1 571.8,424.7 572.6,421.4 573.4,425.0 574.2,422.7 575.0,420.8 575.8,425.4 576.6,422.6 577.4,424.0 578.2,423.1 579.0,425.0 579.8,425.0 580.6,425.0 581.4,424.4 582.2,420.9 583.0,420.8 583.8,423.6 584.6,421.8 585.4,424.0 586.2,423.5 587.0,421.1 587.8,421.7 588.6,421.5 589.4,421.8 590.2,422.9 591.0,424.2 591.8,425.2 592.6,421.7 593.4,422.3 594.2,425.5 595.0,424.4 595.8,423.4 596.6,419.5 597.4,421.5 598.2,423.3 599.0,422.1 599.8,426.0 600.6,423.1 601.4,423.4 602.2,421.3 603.0,421.4 603.8,421.9 604.6,422.0 605.4,422.5 606.2,423.4 607.0,423.2 607.8,424.4 608.6,420.8 609.4,423.1 610.2,423.2 611.0,425.2 611.8,422.4 612.6,423.2 613.4,421.5 614.2,423.3 615.0,423.3 615.8,421.7 616.6,422.0 617.4,422.6 618.2,423.5 619.0,420.8 619.8,423.9 620.6,422.0 621.4,425.3 622.2,424.6 623.0,421.8 623.8,421.4 624.6,426.0 625.4,423.2 626.2,423.1 627.0,421.5 627.8,421.9 628.6,423.3 629.4,423.0 630.0,420.7 631.0,423.8 631.8,422.3 632.6,420.2 633.4,423.1 634.2,421.1 635.0,422.4 635.8,420.1 636.6,421.3 637.4,418.0 638.2,420.7 639.0,417.6 639.8,419.8 640.6,415.3 641.4,418.7 642.0,419.6 643.0,418.5 643.8,418.8 644.6,414.4 645.4,417.4 646.2,416.2 647.0,410.8 647.8,410.1 648.6,409.2 649.4,408.6 650.2,407.3 651.0,401.7 651.8,404.6 652.6,401.4 653.4,398.4 654.2,399.4 655.0,395.5 655.8,395.5 656.6,392.2 657.4,388.3 658.2,387.9 659.0,384.7 659.8,380.3 660.6,376.5 661.0,377.2 661.4,378.1 662.2,375.1 663.0,376.5 663.8,372.9 664.6,371.7 665.0,371.6 665.4,369.3 666.2,369.7 667.0,368.4 667.5,365.7 667.8,366.6 668.6,370.8 669.4,369.6 670.2,370.9 671.0,369.8 671.8,372.4 672.6,376.4 673.4,377.5 674.2,379.0 675.0,384.3 675.8,384.1 676.6,385.9 677.4,390.5 678.2,388.4 679.0,394.2 679.8,393.8 680.6,396.4 681.4,398.8 682.2,402.1 683.0,404.0 683.8,405.7 684.6,406.5 685.4,409.1 686.2,410.3 687.0,409.4 687.8,410.0 688.6,408.8 689.4,408.1 690.0,410.9 691.0,410.4 691.8,411.9 692.6,408.0 693.4,415.0 694.2,409.1 695.0,411.3 695.8,412.9 696.6,409.5 697.4,411.0 698.0,408.9 699.0,410.2 699.8,409.9 700.6,413.4 701.4,414.2 702.2,413.8 703.0,416.8 703.8,417.5 704.6,416.0 705.4,416.2 706.0,416.6 707.0,417.1 707.8,420.4 708.6,419.6 709.4,419.5 710.2,420.4 711.0,422.2 711.8,421.4 712.6,423.0 713.4,422.8 714.0,425.0 715.0,424.9 715.8,421.1 716.6,423.1 717.4,424.6 718.2,422.9 719.0,424.9 719.8,424.3 720.6,424.7 721.4,423.8 722.2,424.5 723.0,424.9 723.8,421.9 724.6,422.8 725.4,422.7 726.2,426.8 727.0,424.8 727.8,424.9 728.6,424.7 729.4,423.7 730.2,423.4 731.0,425.8 731.8,424.0 732.6,427.0 733.4,425.0 734.2,424.8 735.0,424.4 735.8,424.7 736.6,424.9 737.4,427.2 738.2,428.4 739.0,423.2 739.8,425.4 740.6,426.1 741.4,423.7 742.2,424.2 743.0,424.5 743.8,421.6 744.6,426.3 745.4,425.3 746.2,425.2 747.0,425.6 747.8,425.9 748.6,429.0 749.4,425.8 750.2,426.9 751.0,424.9 751.8,426.2 752.6,425.3 753.4,425.6 754.2,424.5 755.0,424.6 755.8,426.6 756.6,427.0 757.4,426.6 758.2,425.0 759.0,426.5 759.8,422.2 760.6,427.5 761.4,426.0 762.2,426.5 763.0,427.8 763.8,425.5 764.6,427.6 765.4,425.5 766.2,427.0 767.0,425.5 767.8,426.6 768.6,428.4 769.4,425.2 770.2,425.3 771.0,425.7 771.8,426.7 772.6,430.4 773.4,425.4 774.2,423.2 775.0,425.3 775.8,423.9 776.6,425.5 777.4,426.3 778.2,424.9 779.0,425.3 779.8,423.5 780.6,426.6 781.4,425.2 782.2,428.0 783.0,428.0 783.8,425.1 784.6,425.8 785.4,426.5 786.2,427.6 787.0,423.9 787.8,426.3 788.6,429.2 789.4,426.3 790.2,426.8 791.0,426.5 791.8,424.7 792.6,427.9 793.4,426.9 794.2,426.7 795.0,427.6 795.8,427.7 796.6,423.7 797.4,427.3 798.2,425.7 799.0,426.8 799.8,425.5 800.6,425.3 801.4,428.0 802.2,426.6 803.0,426.2 803.8,426.2 804.6,426.7 805.4,426.6 806.2,423.1 807.0,425.3 807.8,426.3 808.6,427.8 809.4,428.7 810.2,425.3 811.0,429.6 811.8,426.9 812.6,427.5 813.4,425.9 814.2,425.8 815.0,428.9 815.8,426.4 816.6,426.6 817.4,428.5 818.2,429.4 819.0,424.6 819.8,426.5 820.6,426.8 821.4,429.6 822.2,430.6 823.0,426.8 823.8,427.4 824.6,428.2 825.4,428.6 826.2,426.4 827.0,428.2 827.8,425.9 828.6,422.9 829.4,424.9 830.2,427.3 831.0,428.2 831.8,423.6 832.6,424.3 833.4,427.0 834.2,421.9 835.0,427.9 835.8,428.6 836.6,422.6 837.4,428.2 838.2,426.8 839.0,429.2 839.8,427.5 840.6,426.7 841.4,427.3 842.2,428.5 843.0,427.4 843.8,427.2 844.6,425.0 845.4,427.9 846.2,427.2 847.0,429.9 847.8,427.2 848.6,427.1 849.0,426.3" fill="none" stroke="#0000FF" stroke-width="2.8" stroke-linejoin="round"/>
<polyline points="119.6,561.6 120.5,560.1 121.4,559.8 122.3,560.3 123.2,559.8 124.0,557.5 125.0,556.6 125.9,556.0 126.8,558.4 127.7,557.2 128.0,558.3 128.6,555.2 129.5,554.9 130.4,554.5 131.3,555.3 132.2,554.4 133.1,554.9 134.0,554.7 134.9,554.5 135.8,552.1 136.7,551.2 137.6,552.2 138.0,552.0 138.5,552.3 139.4,551.0 140.3,552.8 141.2,553.1 142.1,554.7 143.0,554.7 143.9,554.7 144.8,554.8 145.7,555.1 146.6,554.7 147.5,554.7 148.4,556.5 149.3,557.1 150.2,557.0 151.1,553.6 152.0,554.2 152.9,553.3 153.8,554.8 154.7,554.4 155.6,554.0 156.5,554.3 157.4,554.2 158.3,554.3 159.2,553.7 160.1,553.2 161.0,554.2 161.9,554.1 162.8,554.6 163.7,554.8 164.6,554.0 165.5,555.0 166.4,553.2 167.3,555.3 168.2,554.8 169.1,556.1 170.0,554.5 170.9,554.8 171.8,554.9 172.7,555.4 173.6,555.8 174.5,555.7 175.4,555.7 176.3,555.3 177.2,556.5 178.1,556.6 179.0,556.5 179.9,555.8 180.8,556.5 181.7,557.5 182.6,556.9 183.5,556.3 184.4,555.3 185.3,556.4 186.2,557.6 187.1,557.7 188.0,557.5 188.9,557.2 189.8,556.4 190.7,555.8 191.6,554.7 192.5,555.6 193.4,556.4 194.3,556.4 195.2,557.7 196.1,557.1 197.0,557.3 197.9,556.9 198.8,558.0 199.7,558.2 200.6,557.7 201.5,557.8 202.4,557.9 203.3,558.1 204.2,556.9 205.1,557.0 206.0,555.5 206.9,555.5 207.8,554.7 208.7,556.8 209.6,557.1 210.5,558.2 211.4,556.7 212.3,556.9 213.2,556.6 214.1,556.6 215.0,557.4 215.9,556.5 216.8,557.5 217.7,558.8 218.6,559.5 219.5,559.1 220.0,556.1 220.4,556.7 221.3,555.5 222.2,557.0 223.1,556.7 224.0,556.7 224.9,555.3 225.8,554.6 226.7,555.7 227.6,557.2 228.5,558.1 229.4,557.5 230.3,556.3 231.2,556.7 232.1,555.8 233.0,556.8 233.9,557.0 234.8,557.0 235.7,557.5 236.6,556.0 237.5,557.6 238.4,557.7 239.3,557.7 240.2,556.5 241.1,554.9 242.0,555.3 242.9,556.5 243.8,557.0 244.7,557.4 245.6,557.2 246.5,557.4 247.4,557.2 248.3,557.8 249.2,557.9 250.1,557.8 251.0,558.9 251.9,558.0 252.8,559.2 253.7,557.4 254.6,558.6 255.5,558.5 256.4,559.6 257.3,560.4 258.0,560.0" fill="none" stroke="#000000" stroke-width="2.7" stroke-linejoin="round"/>
<polyline points="271.8,556.5 272.6,560.2 273.4,557.7 274.2,556.4 275.0,555.8 275.8,559.5 276.6,558.8 277.4,557.0 278.2,557.8 279.0,558.3 279.8,557.0 280.6,556.4 281.4,556.8 282.2,557.6 283.0,556.8 283.8,555.4 284.6,557.4 285.4,554.8 286.2,555.8 287.0,557.8 287.8,556.7 288.6,556.7 289.4,556.5 290.2,557.4 291.0,556.2 291.8,554.2 292.6,556.4 293.4,553.0 294.2,554.0 295.0,557.6 295.8,557.0 296.6,555.4 297.4,555.8 298.2,555.9 299.0,556.8 299.8,554.9 300.6,554.8 301.4,555.0 302.2,555.7 303.0,555.8 303.8,555.1 304.6,556.2 305.4,554.3 306.2,555.2 307.0,554.6 307.8,554.2 308.6,556.4 309.4,554.8 310.0,554.0 311.0,555.0 311.8,553.9 312.6,555.5 313.4,555.7 314.2,555.8 315.0,553.7 315.8,554.5 316.6,556.5 317.4,554.4 318.2,555.8 319.0,556.0 319.8,553.0 320.6,555.6 321.4,555.1 322.2,555.1 323.0,555.9 323.8,554.6 324.6,554.2 325.4,554.6 326.2,553.6 327.0,554.4 327.8,551.8 328.6,555.6 329.4,553.2 330.2,554.2 331.0,553.9 331.8,553.7 332.6,553.6 333.4,553.5 334.2,551.7 335.0,552.8 335.8,554.5 336.6,552.2 337.4,552.1 338.2,555.3 339.0,554.3 339.8,554.6 340.6,552.9 341.4,553.1 342.2,553.6 343.0,553.3 343.8,552.6 344.6,551.1 345.4,551.8 346.2,551.0 347.0,554.1 347.8,552.0 348.6,552.2 349.4,552.6 350.2,552.3 351.0,552.7 351.8,551.5 352.6,550.5 353.4,553.8 354.2,551.3 355.0,551.5 355.8,551.1 356.6,551.3 357.4,551.8 358.2,552.5 359.0,550.6 359.8,552.0 360.6,550.9 361.4,552.8 362.2,550.3 363.0,551.6 363.8,552.2 364.6,550.0 365.4,551.5 366.2,551.4 367.0,550.4 367.8,551.0 368.6,552.2 369.4,551.4 370.2,550.6 371.0,550.8 371.8,551.4 372.6,552.2 373.4,551.7 374.2,551.6 375.0,552.4 375.8,549.2 376.6,549.2 377.4,548.3 378.2,551.4 379.0,548.2 379.8,550.4 380.6,551.2 381.4,548.9 382.2,549.6 383.0,550.0 383.8,550.9 384.6,548.6 385.4,550.4 386.2,550.7 387.0,550.1 387.8,550.0 388.6,551.1 389.4,550.0 390.2,549.6 391.0,549.3 391.8,550.2 392.6,549.2 393.4,550.0 394.2,549.4 395.0,550.3 395.8,548.3 396.6,549.1 397.4,549.3 398.2,549.3 399.0,549.9 399.8,549.0 400.6,549.4 401.4,550.4 402.2,549.1 403.0,547.1 403.8,546.6 404.6,548.5 405.4,547.3 406.2,547.9 407.0,547.2 407.8,548.6 408.6,548.3 409.4,545.8 410.2,547.0 411.0,546.3 411.8,545.1 412.6,546.9 413.4,545.9 414.2,546.3 415.0,548.2 415.8,546.9 416.6,546.5 417.4,544.8 418.2,543.8 419.0,546.1 419.8,544.3 420.6,544.5 421.4,543.9 422.2,544.2 423.0,546.3 423.8,543.4 424.6,543.3 425.4,543.6 426.2,543.5 427.0,541.8 427.8,541.1 428.6,542.1 429.0,542.4 429.4,541.7 430.2,541.3 431.0,541.2 431.8,541.6 432.6,541.7 433.4,540.0 434.2,540.9 435.0,541.6 435.8,540.9 436.6,539.4 437.4,540.2 438.2,540.4 439.0,541.0 439.8,538.4 440.6,540.5 441.4,539.1 442.2,539.6 443.0,539.8 443.8,538.1 444.6,537.9 445.4,538.4 446.2,539.1 447.0,537.6 447.8,536.5 448.6,537.1 449.4,538.0 450.2,538.5 451.0,536.7 451.8,536.7 452.6,536.7 453.4,536.6 454.2,535.6 455.0,535.9 455.8,536.4 456.6,536.2 457.4,536.0 458.2,534.8 459.0,535.2 459.8,534.9 460.6,536.6 461.4,536.9 462.0,535.7 463.0,536.8 463.8,534.9 464.6,534.8 465.4,533.7 466.2,535.2 467.0,534.4 467.8,534.9 468.6,535.2 469.4,534.4 470.2,533.5 471.0,534.5 471.8,534.4 472.6,534.4 473.4,535.0 474.2,534.0 475.0,533.9 475.8,535.9 476.6,535.1 477.4,533.9 478.2,533.1 479.0,533.5 479.8,534.3 480.6,534.7 481.4,536.2 482.2,533.5 483.0,533.9 483.8,533.4 484.6,533.8 485.4,533.3 486.2,532.6 487.0,534.7 487.8,533.8 488.6,535.0 489.4,533.2 490.2,534.0 491.0,534.5 491.8,532.0 492.6,532.7 493.4,534.8 494.2,534.3 495.0,532.5 495.8,533.7 496.6,533.6 497.4,534.3 498.2,536.4 499.0,534.5 499.8,537.3 500.6,535.2 501.4,534.9 502.2,537.4 503.0,536.9 503.8,537.5 504.6,538.3 505.4,537.6 506.2,537.9 507.0,535.2 507.8,536.3 508.6,537.7 509.4,537.6 510.2,538.3 511.0,537.3 511.8,539.0 512.6,540.0 513.4,538.7 514.2,539.1 515.0,539.0 515.8,539.5 516.6,539.0 517.4,538.4 518.2,539.2 519.0,539.3 519.8,537.8 520.6,539.7 521.4,539.7 522.2,540.0 523.0,539.4 523.8,540.5 524.6,540.8 525.4,539.7 526.2,540.8 527.0,541.4 527.8,541.5 528.6,540.0 529.4,540.1 530.2,541.2 531.0,540.3 531.8,544.0 532.6,540.8 533.4,541.0 534.2,542.5 535.0,541.6 535.8,539.8 536.6,542.1 537.4,541.4 538.2,542.0 539.0,541.1 539.8,542.0 540.6,542.8 541.4,543.1 542.2,542.2 543.0,542.7 543.8,542.7 544.6,543.9 545.4,543.7 546.2,542.8 547.0,544.8 547.8,543.6 548.6,544.8 549.4,543.7 550.2,545.0 551.0,544.7 551.8,545.0 552.6,545.6 553.4,545.6 554.2,545.4 555.0,545.5 555.8,544.2 556.6,545.5 557.4,543.5 558.2,543.5 559.0,545.5 559.8,545.6 560.6,547.4 561.4,546.6 562.2,547.1 563.0,545.7 563.8,546.5 564.6,547.3 565.4,546.7 566.2,546.6 567.0,546.4 567.8,545.4 568.6,545.5 569.4,545.0 570.2,546.8 571.0,546.2 571.8,545.8 572.6,546.9 573.4,546.0 574.2,547.6 575.0,548.5 575.8,547.1 576.6,546.0 577.4,545.3 578.2,548.8 579.0,547.2 579.8,545.7 580.6,547.9 581.4,545.2 582.2,546.4 583.0,546.7 583.8,546.6 584.6,545.8 585.4,549.3 586.2,546.6 587.0,547.3 587.8,547.0 588.6,545.4 589.4,546.4 590.0,547.2 591.0,547.9 591.8,546.6 592.6,547.3 593.4,546.6 594.2,547.5 595.0,544.5 595.8,547.5 596.6,546.3 597.4,546.3 598.2,544.0 599.0,545.8 599.8,547.4 600.6,549.1 601.4,546.1 602.2,546.1 603.0,547.2 603.8,547.0 604.6,546.1 605.4,546.5 606.2,546.2 607.0,547.2 607.8,547.3 608.6,548.3 609.0,547.4 609.4,547.1 610.2,546.6 611.0,547.3 611.8,545.4 612.6,548.4 613.4,546.5 614.2,547.6 615.0,545.3 615.8,547.1 616.6,546.4 617.4,545.7 618.2,545.2 619.0,544.9 619.8,547.5 620.6,546.8 621.4,545.6 622.2,545.6 623.0,544.6 623.8,543.4 624.6,543.4 625.4,544.4 626.2,544.8 627.0,543.7 627.8,545.6 628.6,545.2 629.4,544.7 630.0,542.7 631.0,544.2 631.8,544.2 632.6,542.9 633.4,541.9 634.2,545.9 635.0,544.5 635.8,543.3 636.6,545.2 637.4,544.6 638.2,543.8 639.0,543.5 639.8,543.9 640.6,544.5 641.4,542.9 642.2,542.5 643.0,543.2 643.8,539.7 644.6,542.4 645.4,541.8 646.2,542.0 647.0,541.7 647.8,542.1 648.6,541.7 649.4,541.5 650.2,541.2 651.0,541.6 651.8,540.5 652.6,541.9 653.4,539.0 654.2,540.7 655.0,540.8 655.8,538.9 656.6,539.5 657.4,541.1 658.2,539.4 659.0,538.5 659.8,536.2 660.6,539.3 661.4,538.8 662.2,539.1 663.0,540.4 663.8,538.1 664.6,538.1 665.4,537.1 666.2,537.5 667.0,537.4 667.8,538.1 668.6,537.7 669.4,536.3 670.0,536.5 671.0,538.3 671.8,535.9 672.6,537.5 673.4,538.3 674.2,537.2 675.0,536.7 675.8,537.8 676.6,536.7 677.4,536.3 678.2,536.0 679.0,537.3 679.8,536.8 680.6,537.6 681.4,535.7 682.2,535.7 683.0,535.6 683.8,536.3 684.6,535.3 685.4,536.9 686.2,536.4 687.0,535.1 687.8,533.2 688.6,534.4 689.4,537.7 690.2,536.3 691.0,536.6 691.8,536.1 692.6,537.1 693.4,534.8 694.2,534.9 695.0,535.4 695.8,537.2 696.6,538.0 697.4,537.9 698.0,537.4 699.0,536.4 699.8,538.7 700.6,537.8 701.4,538.4 702.2,538.6 703.0,538.5 703.8,538.6 704.6,539.0 705.4,538.7 706.2,540.6 707.0,540.5 707.8,542.0 708.6,539.6 709.4,542.9 710.0,541.9 711.0,542.3 711.8,542.0 712.6,542.4 713.4,542.1 714.2,544.9 715.0,544.3 715.8,545.6 716.6,546.2 717.4,545.3 718.2,546.0 719.0,546.3 719.8,548.1 720.6,547.6 721.4,548.0 722.2,549.0 723.0,548.5 723.8,551.0 724.6,548.3 725.4,550.8 726.2,551.2 727.0,549.0 727.8,551.3 728.6,551.0 729.4,551.8 730.2,550.0 731.0,551.7 731.8,550.7 732.6,551.6 733.4,553.6 734.2,552.3 735.0,550.4 735.8,551.5 736.6,552.0 737.4,554.3 738.2,552.8 739.0,552.2 739.8,555.1 740.6,554.4 741.4,554.7 742.2,553.7 743.0,556.2 743.8,554.8 744.6,553.1 745.4,554.2 746.2,554.6 747.0,555.5 747.8,556.6 748.6,555.3 749.4,555.6 750.2,558.5 751.0,556.6 751.8,556.1 752.6,556.8 753.4,555.7 754.2,557.6 755.0,558.1 755.8,556.7 756.6,558.4 757.4,557.2 758.2,557.9 759.0,556.9 759.8,557.0 760.6,556.4 761.4,558.2 762.2,557.8 763.0,557.9 763.8,557.1 764.6,557.1 765.4,557.7 766.2,558.9 767.0,558.8 767.8,557.9 768.6,559.0 769.4,560.5 770.2,558.9 771.0,560.9 771.8,559.4 772.6,560.3 773.4,558.5 774.2,560.3 775.0,558.0 775.8,559.5 776.6,559.0 777.4,557.3 778.2,558.0 779.0,560.6 779.8,560.0 780.6,560.8 781.4,559.8 782.2,556.7 783.0,559.9 783.8,559.1 784.6,559.3 785.4,559.4 786.2,559.1 787.0,558.9 787.8,561.2 788.6,560.4 789.4,559.4 790.2,559.6 791.0,561.1 791.8,560.5 792.6,560.4 793.4,559.0 794.2,559.8 795.0,559.2 795.8,558.4 796.6,561.3 797.4,560.1 798.2,560.0 799.0,559.5 799.8,561.2 800.6,562.6 801.4,561.1 802.2,561.5 803.0,559.3 803.8,560.7 804.6,560.8 805.4,562.1 806.0,560.6 807.0,559.7 807.8,560.5 808.6,560.2 809.4,562.1 810.2,561.3 811.0,561.0 811.8,560.8 812.6,561.5 813.4,560.2 814.2,559.7 815.0,558.8 815.8,561.9 816.6,561.2 817.4,561.3 818.2,560.7 819.0,562.4 819.8,559.7 820.6,561.9 821.4,559.9 822.2,560.3 823.0,559.5 823.8,560.8 824.6,560.4 825.4,561.2 826.2,560.1 827.0,559.3 827.8,561.3 828.6,562.0 829.4,561.5 830.2,560.7 831.0,561.1 831.8,559.0 832.6,560.4 833.4,561.9 834.2,561.2 835.0,559.9 835.8,561.6 836.6,560.6 837.4,561.5 838.2,559.4 839.0,560.2 839.8,561.1 840.6,561.1 841.4,561.3 842.2,560.8 843.0,560.6 843.8,561.2 844.6,561.6 845.4,559.3 846.2,560.5 847.0,560.6 847.8,560.9 848.6,561.8 849.0,559.5" fill="none" stroke="#000000" stroke-width="2.7" stroke-linejoin="round"/>
<text x="32.4" y="89.2" font-size="45.7" font-weight="bold" font-style="normal" text-anchor="start">a)</text>
<text transform="translate(80.1,436.3) rotate(-90)" font-size="40.5" font-weight="bold">Intensity (a.u.)</text>
<text x="308.1" y="677.2" font-size="40.5" font-weight="bold" font-style="normal" text-anchor="start">Raman shift (cm</text>
<text x="623.0" y="660.1" font-size="26.5" font-weight="bold" font-style="normal" text-anchor="start">-1</text>
<text x="647.4" y="677.2" font-size="40.5" font-weight="bold" font-style="normal" text-anchor="start">)</text>
<text x="149.6" y="609.2" font-size="38.0" font-weight="normal" font-style="normal" text-anchor="middle">70</text>
<text x="219.1" y="609.2" font-size="38.0" font-weight="normal" font-style="normal" text-anchor="middle">140</text>
<text x="354.8" y="609.2" font-size="38.0" font-weight="normal" font-style="normal" text-anchor="middle">1200</text>
<text x="520.1" y="609.2" font-size="38.0" font-weight="normal" font-style="normal" text-anchor="middle">1400</text>
<text x="685.5" y="609.2" font-size="38.0" font-weight="normal" font-style="normal" text-anchor="middle">1600</text>
<text x="850.8" y="609.2" font-size="38.0" font-weight="normal" font-style="normal" text-anchor="middle">1800</text>
<text x="566.1" y="114.9" font-size="32.7" font-weight="normal" font-style="normal" text-anchor="start">2D Sb</text>
<text x="657.7" y="123.4" font-size="22.7" font-weight="normal" font-style="normal" text-anchor="start">exf</text>
<rect x="689.6" y="104.20" width="12.60" height="2.2" fill="#000"/>
<text x="703.4" y="114.9" font-size="32.7" font-weight="normal" font-style="normal" text-anchor="start">SPCNFE</text>
<text x="610.8" y="236.0" font-size="32.7" font-weight="normal" font-style="normal" text-anchor="start">2D Sb</text>
<text x="702.7" y="244.5" font-size="22.7" font-weight="normal" font-style="normal" text-anchor="start">exf</text>
<rect x="735.0" y="224.90" width="12.40" height="2.2" fill="#000"/>
<text x="749.6" y="236.0" font-size="32.7" font-weight="normal" font-style="normal" text-anchor="start">SPCE</text>
<text x="655.7" y="349.0" font-size="32.5" font-weight="normal" font-style="normal" text-anchor="start">SPCNFE</text>
<text x="788.7" y="358.0" font-size="22.3" font-weight="normal" font-style="normal" text-anchor="start">bare</text>
<text x="698.2" y="515.3" font-size="32.5" font-weight="normal" font-style="normal" text-anchor="start">SPCE</text>
<text x="787.8" y="523.5" font-size="22.3" font-weight="normal" font-style="normal" text-anchor="start">bare</text>
<text transform="translate(170.0,93.5) scale(1,1.08)" font-size="35.5" font-weight="normal" font-style="italic" text-anchor="start">E</text>
<text x="192.7" y="101.5" font-size="23" font-weight="normal" font-style="normal" text-anchor="start">g</text>
<text transform="translate(234.9,75.2) scale(1,1.09)" font-size="34.5" font-weight="normal" font-style="italic" text-anchor="start">A</text>
<text x="258.1" y="83.9" font-size="23" font-weight="normal" font-style="normal" text-anchor="start">1g</text>
<path d="M257.2,724.0 H120.0 V1308.2 H257.2 M272.0,724.0 H847.2 V1308.2 H272.0" fill="none" stroke="#000" stroke-width="2.0" stroke-linecap="square"/>
<path d="M149.8,724.0 v11.5 M149.8,1308.2 v-11.5 M219.3,724.0 v11.5 M219.3,1308.2 v-11.5 M354.3,724.0 v11.5 M354.3,1308.2 v-11.5 M518.6,724.0 v11.5 M518.6,1308.2 v-11.5 M682.9,724.0 v11.5 M682.9,1308.2 v-11.5 M129.9,724.0 v5.5 M129.9,1308.2 v-5.5 M139.9,724.0 v5.5 M139.9,1308.2 v-5.5 M159.7,724.0 v5.5 M159.7,1308.2 v-5.5 M169.6,724.0 v5.5 M169.6,1308.2 v-5.5 M179.6,724.0 v5.5 M179.6,1308.2 v-5.5 M189.5,724.0 v5.5 M189.5,1308.2 v-5.5 M199.4,724.0 v5.5 M199.4,1308.2 v-5.5 M209.4,724.0 v5.5 M209.4,1308.2 v-5.5 M229.2,724.0 v5.5 M229.2,1308.2 v-5.5 M239.1,724.0 v5.5 M239.1,1308.2 v-5.5 M249.1,724.0 v5.5 M249.1,1308.2 v-5.5 M272.1,724.0 v5.5 M272.1,1308.2 v-5.5 M436.5,724.0 v5.5 M436.5,1308.2 v-5.5 M600.8,724.0 v5.5 M600.8,1308.2 v-5.5 M765.0,724.0 v5.5 M765.0,1308.2 v-5.5 M120.0,752.1 h11.5 M847.2,752.1 h-11.5 M120.0,863.4 h11.5 M847.2,863.4 h-11.5 M120.0,974.8 h11.5 M847.2,974.8 h-11.5 M120.0,1086.1 h11.5 M847.2,1086.1 h-11.5 M120.0,1197.5 h11.5 M847.2,1197.5 h-11.5 M120.0,807.8 h5.5 M847.2,807.8 h-5.5 M120.0,919.1 h5.5 M847.2,919.1 h-5.5 M120.0,1030.5 h5.5 M847.2,1030.5 h-5.5 M120.0,1141.8 h5.5 M847.2,1141.8 h-5.5 M120.0,1253.2 h5.5 M847.2,1253.2 h-5.5" fill="none" stroke="#000" stroke-width="2.0"/>
<path d="M253,734.8 L265.3,712.4 M266,734.8 L278.4,712.4 M253,1319.2 L265.3,1297.4 M266,1319.2 L278.4,1297.4" fill="none" stroke="#000" stroke-width="1.5"/>
<polyline points="120.2,1268.4 120.9,1263.4 121.6,1259.3 122.3,1259.4 123.0,1258.3 123.7,1256.2 124.0,1255.0 124.4,1254.3 125.1,1252.6 125.8,1248.0 126.5,1244.4 127.0,1245.8 127.9,1247.8 128.6,1249.3 129.3,1252.5 130.0,1250.3 130.7,1243.5 131.4,1243.0 132.1,1245.0 132.8,1244.4 133.5,1241.1 134.2,1240.2 134.9,1241.5 135.6,1238.8 136.3,1236.5 137.0,1240.5 137.7,1238.5 138.4,1236.6 139.1,1239.8 139.5,1241.8 139.8,1243.4 140.5,1240.3 141.2,1242.5 141.9,1244.2 142.6,1246.2 143.0,1250.1 143.3,1246.5 144.0,1244.5 144.7,1244.0 145.4,1240.0 146.1,1240.3 146.8,1241.6 147.5,1240.7 148.2,1241.1 148.9,1241.5 149.6,1241.1 150.0,1238.6 150.3,1237.1 151.0,1238.7 151.7,1239.8 152.4,1240.3 153.1,1244.9 153.8,1246.9 154.5,1246.8 155.2,1243.7 155.9,1239.0 156.6,1237.8 157.3,1235.4 158.0,1234.0 158.7,1233.3 159.4,1232.2 160.1,1234.8 160.8,1236.0 161.5,1231.2 162.2,1228.5 162.9,1230.4 163.6,1231.6 164.3,1228.8 165.0,1228.9 165.7,1226.9 166.4,1223.9 167.1,1228.5 167.4,1224.5 167.8,1220.7 168.5,1225.5 169.2,1224.1 169.9,1219.6 170.6,1216.9 171.3,1213.3 172.0,1210.9 172.6,1212.9 173.4,1211.5 174.1,1208.6 174.5,1207.7 174.8,1207.1 175.5,1201.7 176.1,1197.7 176.9,1193.6 177.6,1186.2 178.3,1175.8 179.0,1161.1 179.5,1157.4 180.4,1156.5 181.1,1155.5 181.5,1152.2 181.8,1147.8 182.5,1137.2 183.2,1121.1 183.9,1107.8 184.6,1093.3 185.3,1078.3 186.0,1067.8 186.7,1057.2 187.4,1051.8 188.1,1050.2 188.6,1047.7 189.5,1051.2 190.2,1060.4 190.5,1062.5 190.9,1066.7 191.6,1089.8 192.0,1103.6 192.3,1110.3 193.0,1115.9 193.7,1125.2 194.4,1134.4 195.1,1140.8 195.8,1148.6 196.1,1148.2 196.5,1150.7 197.2,1157.8 197.9,1163.7 198.6,1170.8 199.3,1178.6 200.0,1186.7 200.7,1188.6 201.3,1189.7 202.1,1192.9 202.8,1192.3 203.5,1195.0 204.0,1195.4 204.9,1196.8 205.6,1197.5 206.0,1194.0 206.3,1196.1 207.0,1195.9 207.7,1193.3 208.4,1196.0 209.1,1198.3 209.8,1197.3 210.5,1190.6 211.2,1184.3 211.9,1184.2 212.6,1184.2 213.3,1178.7 214.0,1175.0 214.7,1172.7 215.4,1166.6 216.1,1154.6 216.8,1144.3 217.5,1135.4 218.2,1126.2 218.9,1116.3 219.6,1092.5 220.3,1057.9 221.0,986.2 221.7,941.4 222.4,905.1 223.1,855.8 223.8,810.8 224.5,777.6 225.2,750.3 225.9,755.2 226.6,789.1 227.3,835.1 228.0,898.8 228.7,962.9 229.4,1004.6 230.1,1030.1 230.6,1054.6 231.3,1107.7 232.2,1134.6 232.9,1149.0 233.6,1159.1 234.3,1174.0 234.6,1183.1 235.0,1190.1 235.7,1202.7 236.3,1208.4 237.1,1213.5 237.8,1219.9 238.5,1223.4 239.0,1222.2 239.9,1222.9 240.6,1226.4 241.3,1230.8 242.0,1232.4 242.7,1236.3 243.4,1239.7 244.1,1240.5 244.8,1242.0 245.5,1244.3 246.2,1247.0 246.9,1249.4 247.3,1249.0 247.6,1246.8 248.3,1248.8 249.0,1252.5 249.7,1250.0 250.4,1249.8 251.1,1251.5 251.8,1247.6 252.5,1248.5 253.2,1254.0 253.9,1253.0 254.6,1250.2 255.3,1253.1 256.0,1252.4 256.7,1249.0 257.4,1250.2 258.1,1252.6" fill="none" stroke="#008000" stroke-width="2.7" stroke-linejoin="round"/>
<polyline points="271.5,1257.2 272.1,1253.3 272.6,1254.0 273.2,1255.3 273.7,1253.7 274.3,1252.1 274.8,1251.3 275.4,1257.4 275.9,1254.2 276.5,1264.6 277.0,1257.0 277.6,1252.3 278.1,1254.9 278.7,1256.0 279.2,1256.2 279.8,1256.3 280.3,1256.3 280.9,1254.3 281.4,1257.0 282.0,1262.2 282.5,1253.3 283.1,1253.4 283.6,1257.1 284.2,1258.9 284.7,1257.5 285.3,1258.8 285.8,1254.5 286.4,1253.9 286.9,1256.8 287.5,1256.9 288.0,1260.3 288.6,1259.9 289.1,1248.4 289.7,1257.2 290.2,1252.3 290.8,1247.4 291.3,1255.8 291.9,1253.9 292.4,1253.3 293.0,1250.1 293.5,1251.0 294.1,1253.7 294.6,1249.3 295.2,1254.0 295.7,1254.7 296.3,1253.8 296.8,1255.3 297.4,1254.1 297.9,1250.3 298.5,1250.8 299.0,1254.7 299.6,1257.5 300.1,1254.7 300.7,1252.5 301.2,1254.7 301.8,1248.0 302.3,1250.8 302.9,1252.8 303.4,1253.9 304.0,1253.0 304.5,1253.1 305.1,1250.0 305.6,1252.1 306.2,1254.9 306.7,1247.8 307.3,1249.9 307.8,1252.8 308.4,1259.0 308.9,1256.2 309.5,1259.2 310.0,1258.5 310.6,1252.4 311.1,1253.6 311.7,1249.9 312.2,1257.8 312.8,1256.3 313.3,1255.8 313.9,1256.0 314.4,1255.3 315.0,1254.5 315.5,1254.7 316.1,1257.8 316.6,1251.1 317.2,1250.2 317.7,1253.7 318.3,1257.6 318.8,1254.5 319.4,1253.0 319.9,1256.5 320.5,1254.0 321.0,1247.2 321.6,1250.2 322.1,1246.5 322.7,1252.8 323.2,1252.1 323.8,1255.0 324.3,1260.7 324.9,1251.5 325.4,1253.5 326.0,1252.2 326.5,1244.0 327.1,1250.9 327.6,1251.0 328.2,1254.4 328.7,1250.6 329.3,1249.1 329.8,1255.4 330.4,1253.2 330.9,1250.4 331.5,1250.8 332.0,1252.4 332.6,1256.1 333.1,1258.2 333.7,1248.9 334.2,1257.3 334.8,1253.5 335.3,1254.5 335.9,1256.6 336.4,1250.0 337.0,1256.2 337.5,1248.8 338.1,1251.7 338.6,1250.4 339.2,1258.9 339.7,1258.8 340.3,1255.8 340.8,1255.0 341.4,1251.4 341.9,1259.1 342.5,1257.9 343.0,1256.2 343.6,1252.8 344.1,1252.0 344.7,1252.9 345.2,1257.6 345.8,1249.9 346.3,1253.5 346.9,1258.7 347.4,1256.1 348.0,1259.0 348.5,1254.5 349.1,1254.6 349.6,1257.8 350.2,1255.3 350.7,1254.3 351.3,1251.4 351.8,1248.1 352.4,1258.1 352.9,1251.7 353.5,1250.6 354.0,1256.0 354.6,1250.1 355.1,1248.5 355.7,1251.1 356.2,1252.8 356.8,1254.0 357.3,1254.8 357.9,1256.3 358.4,1252.6 359.0,1254.2 359.5,1252.6 360.1,1250.8 360.6,1254.3 361.2,1254.2 361.7,1259.2 362.3,1255.0 362.8,1250.6 363.4,1255.0 363.9,1252.1 364.5,1258.2 365.0,1247.2 365.6,1250.7 366.1,1250.7 366.7,1253.3 367.2,1252.4 367.8,1247.5 368.3,1246.6 368.9,1253.5 369.4,1257.8 370.0,1257.7 370.5,1251.5 371.1,1254.3 371.6,1249.9 372.2,1247.9 372.7,1256.9 373.3,1255.0 373.8,1251.6 374.4,1251.5 374.9,1255.8 375.5,1253.8 376.0,1251.5 376.6,1253.6 377.1,1252.6 377.7,1251.3 378.2,1250.2 378.8,1255.7 379.3,1251.0 379.9,1248.6 380.4,1258.6 381.0,1256.7 381.5,1254.3 382.1,1252.3 382.6,1253.2 383.2,1247.6 383.7,1252.4 384.3,1253.4 384.8,1251.7 385.4,1253.9 385.9,1249.8 386.5,1253.0 387.0,1247.1 387.6,1252.2 388.1,1250.2 388.7,1247.8 389.2,1250.9 389.8,1252.3 390.3,1250.2 390.9,1255.3 391.4,1249.8 392.0,1255.2 392.5,1254.5 393.1,1250.0 393.6,1256.8 394.2,1247.4 394.7,1253.7 395.3,1252.1 395.8,1254.4 396.4,1246.6 396.9,1247.8 397.5,1249.0 398.0,1251.7 398.6,1251.9 399.1,1251.6 399.7,1250.7 400.2,1249.1 400.8,1246.9 401.3,1249.9 401.9,1253.1 402.4,1254.7 403.0,1249.5 403.5,1254.7 404.1,1246.6 404.6,1253.6 405.2,1247.4 405.7,1251.7 406.3,1247.7 406.8,1247.6 407.4,1248.9 407.9,1255.4 408.5,1248.4 409.0,1252.6 409.6,1251.0 410.1,1251.4 410.7,1251.4 411.2,1252.4 411.8,1246.2 412.3,1250.3 412.9,1251.2 413.4,1248.1 414.0,1251.1 414.5,1246.5 415.1,1252.2 415.6,1247.4 416.2,1248.7 416.7,1252.2 417.3,1253.1 417.8,1247.5 418.4,1247.2 418.9,1252.5 419.5,1239.6 420.0,1253.6 420.6,1253.3 421.1,1245.4 421.7,1252.8 422.2,1250.0 422.8,1250.2 423.3,1240.9 423.9,1246.9 424.4,1247.8 425.0,1247.0 425.5,1247.0 426.1,1247.3 426.6,1238.6 427.2,1247.4 427.7,1245.6 428.3,1247.5 428.8,1246.1 429.4,1247.6 429.9,1248.5 430.5,1253.3 431.0,1244.6 431.6,1252.8 432.1,1246.3 432.7,1244.0 433.2,1242.0 433.8,1249.6 434.3,1241.6 434.9,1249.5 435.4,1247.5 436.0,1244.3 436.5,1243.9 437.1,1247.6 437.6,1246.4 438.2,1248.2 438.7,1245.6 439.3,1243.8 439.8,1247.1 440.4,1241.2 440.9,1247.9 441.5,1245.1 442.0,1241.1 442.6,1241.3 443.1,1243.5 443.7,1238.4 444.2,1249.0 444.8,1247.4 445.3,1240.4 445.9,1243.6 446.4,1249.5 447.0,1245.0 447.5,1240.2 448.1,1236.2 448.6,1237.8 449.2,1247.2 449.7,1244.1 450.0,1238.6 450.3,1245.3 450.8,1241.6 451.4,1240.5 451.9,1240.8 452.5,1240.8 453.0,1247.9 453.6,1238.9 454.1,1240.6 454.7,1246.3 455.2,1246.7 455.8,1238.2 456.3,1248.2 456.9,1244.8 457.4,1236.0 458.0,1246.9 458.5,1235.7 459.1,1242.8 459.6,1236.5 460.2,1234.3 460.7,1243.0 461.3,1241.5 461.8,1239.6 462.4,1240.5 462.9,1239.4 463.5,1238.8 464.0,1236.0 464.6,1241.5 465.1,1239.6 465.7,1238.7 466.0,1237.6 466.8,1238.6 467.3,1234.4 467.9,1238.5 468.4,1236.2 469.0,1243.9 469.5,1236.3 470.1,1238.0 470.6,1239.6 471.2,1242.3 471.7,1241.2 472.3,1239.7 472.8,1246.9 473.4,1239.6 473.9,1240.8 474.5,1248.9 475.0,1236.7 475.6,1243.0 476.1,1241.3 476.7,1235.4 477.2,1237.7 477.8,1242.7 478.3,1235.0 478.9,1239.3 479.4,1243.1 480.0,1239.2 480.5,1240.9 481.1,1237.8 481.6,1238.0 482.2,1238.1 482.7,1239.1 483.3,1242.4 483.8,1240.6 484.4,1247.1 484.9,1242.4 485.5,1241.6 486.0,1248.3 486.6,1240.5 487.1,1238.2 487.7,1241.5 488.2,1237.5 488.8,1243.0 489.3,1245.9 489.9,1243.6 490.4,1240.2 491.0,1241.2 491.5,1243.4 492.1,1245.9 492.6,1240.7 493.2,1240.7 493.7,1245.9 494.3,1243.1 494.8,1243.6 495.4,1244.2 495.9,1240.1 496.5,1242.3 497.0,1246.5 497.6,1242.5 498.1,1242.5 498.7,1244.3 499.2,1244.7 499.8,1252.1 500.3,1240.9 500.9,1244.3 501.4,1250.7 502.0,1244.2 502.5,1245.5 503.1,1239.4 503.6,1247.7 504.2,1247.5 504.7,1247.5 505.3,1244.2 505.8,1246.2 506.4,1244.9 506.9,1248.1 507.5,1245.4 508.0,1248.2 508.6,1241.2 509.1,1244.7 509.7,1236.3 510.0,1245.5 510.8,1248.8 511.3,1245.5 511.9,1254.5 512.4,1243.3 513.0,1245.7 513.5,1243.9 514.1,1245.5 514.6,1245.8 515.2,1242.5 515.7,1244.4 516.3,1254.7 516.8,1247.1 517.4,1251.2 517.9,1244.0 518.5,1248.0 519.0,1250.4 519.6,1248.1 520.1,1247.0 520.7,1248.2 521.2,1249.0 521.8,1251.8 522.3,1253.1 522.9,1244.6 523.4,1242.2 524.0,1248.5 524.5,1249.2 525.1,1251.7 525.6,1252.9 526.2,1247.1 526.7,1256.3 527.3,1250.3 527.8,1243.5 528.4,1252.7 528.9,1250.4 529.5,1250.5 530.0,1244.2 530.6,1248.6 531.1,1250.2 531.7,1249.1 532.2,1252.0 532.8,1254.0 533.3,1254.9 533.9,1254.0 534.4,1249.3 535.0,1255.6 535.5,1250.7 536.1,1252.8 536.6,1249.1 537.2,1245.2 537.7,1242.3 538.3,1250.6 538.8,1247.7 539.4,1250.0 539.9,1253.0 540.5,1244.9 541.0,1244.1 541.6,1250.9 542.1,1251.3 542.7,1249.2 543.2,1248.3 543.8,1244.8 544.3,1249.9 544.9,1247.7 545.4,1251.6 546.0,1253.4 546.5,1248.3 547.1,1251.6 547.6,1250.9 548.2,1252.6 548.7,1255.5 549.3,1252.5 549.8,1252.7 550.4,1253.0 550.9,1248.9 551.5,1250.3 552.0,1251.5 552.6,1254.5 553.1,1254.7 553.7,1258.1 554.2,1246.7 554.8,1250.3 555.3,1244.6 555.9,1248.6 556.4,1244.9 557.0,1254.4 557.5,1253.0 558.1,1246.8 558.6,1251.6 559.2,1253.0 559.7,1256.4 560.3,1253.3 560.8,1251.0 561.4,1250.2 561.9,1252.7 562.5,1251.6 563.0,1249.0 563.6,1246.5 564.1,1254.2 564.7,1248.2 565.2,1249.7 565.8,1253.3 566.3,1250.4 566.9,1254.5 567.4,1246.9 568.0,1253.2 568.5,1246.2 569.1,1245.6 569.6,1247.2 570.2,1251.1 570.7,1248.4 571.3,1246.1 571.8,1254.8 572.4,1247.5 572.9,1250.4 573.5,1251.6 574.0,1249.2 574.6,1252.0 575.1,1252.9 575.7,1250.5 576.2,1254.3 576.8,1248.8 577.3,1247.2 577.9,1251.5 578.4,1247.6 579.0,1252.1 579.5,1250.5 580.1,1249.3 580.6,1252.8 581.2,1252.7 581.7,1240.9 582.3,1249.8 582.8,1251.4 583.4,1252.6 583.9,1249.1 584.5,1247.0 585.0,1251.3 585.6,1253.2 586.1,1244.0 586.7,1245.9 587.2,1249.0 587.8,1242.2 588.3,1248.9 588.9,1253.7 589.4,1247.4 590.0,1251.4 590.5,1248.0 591.1,1252.4 591.6,1253.2 592.2,1255.4 592.7,1251.2 593.3,1254.5 593.8,1252.3 594.4,1249.4 594.9,1256.0 595.5,1249.0 596.0,1251.6 596.6,1259.3 597.1,1253.9 597.7,1248.2 598.2,1252.0 598.8,1249.1 599.3,1250.5 599.9,1245.9 600.4,1251.7 601.0,1245.7 601.5,1252.2 602.1,1252.3 602.6,1253.9 603.2,1258.5 603.7,1245.4 604.3,1246.9 604.8,1247.6 605.4,1249.1 605.9,1254.0 606.5,1249.8 607.0,1249.0 607.6,1247.1 608.1,1248.8 608.7,1249.5 609.2,1250.6 609.8,1246.1 610.3,1250.7 610.9,1252.9 611.4,1252.1 612.0,1246.7 612.5,1253.7 613.1,1253.7 613.6,1251.9 614.2,1246.8 614.7,1245.9 615.3,1251.0 615.8,1247.4 616.4,1246.4 616.9,1253.9 617.5,1254.0 618.0,1253.1 618.6,1255.3 619.1,1253.9 619.7,1246.9 620.2,1254.7 620.8,1251.2 621.3,1252.3 621.9,1256.1 622.4,1252.3 623.0,1256.1 623.5,1251.0 624.1,1249.5 624.6,1248.4 625.2,1250.3 625.7,1245.0 626.3,1250.5 626.8,1250.3 627.4,1248.9 627.9,1243.1 628.5,1243.4 629.0,1253.0 629.6,1247.4 630.1,1255.3 630.7,1248.2 631.2,1251.8 631.8,1245.7 632.3,1248.4 632.9,1249.8 633.4,1252.5 634.0,1256.2 634.5,1253.7 635.1,1245.5 635.6,1250.4 636.2,1249.6 636.7,1247.9 637.3,1251.9 637.8,1255.1 638.4,1248.0 638.9,1253.1 639.5,1253.9 640.0,1245.2 640.6,1254.6 641.1,1254.1 641.7,1249.0 642.2,1253.5 642.8,1248.2 643.3,1251.0 643.9,1248.9 644.4,1243.5 645.0,1246.9 645.5,1245.1 646.1,1243.5 646.6,1240.7 647.2,1241.3 647.7,1239.1 648.3,1246.4 648.8,1235.1 649.4,1241.2 649.9,1238.0 650.5,1235.0 651.0,1240.9 651.6,1234.9 652.0,1241.1 652.7,1235.5 653.2,1236.4 653.8,1234.1 654.3,1235.9 654.9,1236.1 655.4,1230.5 656.0,1231.2 656.5,1236.4 657.1,1227.6 657.6,1234.8 658.0,1226.7 658.7,1224.8 659.3,1219.7 659.8,1221.3 660.4,1217.2 660.9,1220.4 661.5,1224.4 662.0,1221.9 662.6,1220.2 663.1,1219.1 663.7,1220.7 664.2,1218.6 664.8,1219.7 665.3,1231.1 665.9,1225.7 666.4,1222.1 667.0,1227.8 667.5,1230.9 668.1,1223.9 668.6,1226.0 669.2,1222.4 669.7,1221.6 670.3,1232.1 670.8,1239.5 671.4,1225.9 671.9,1223.6 672.5,1235.0 673.0,1234.9 673.6,1234.1 674.1,1238.8 674.7,1233.9 675.2,1237.2 675.8,1240.0 676.3,1237.1 676.9,1240.5 677.4,1238.5 678.0,1241.3 678.5,1240.6 679.1,1233.7 679.6,1241.1 680.2,1236.2 680.7,1238.5 681.3,1235.9 681.8,1244.6 682.4,1241.0 682.9,1241.0 683.5,1246.7 684.0,1245.1 684.6,1242.1 685.0,1235.9 685.7,1245.4 686.2,1242.4 686.8,1242.3 687.3,1246.1 687.9,1241.6 688.4,1243.6 689.0,1247.1 689.5,1246.1 690.1,1242.2 690.6,1249.3 691.2,1248.4 691.7,1251.1 692.3,1244.6 692.8,1245.6 693.4,1248.5 693.9,1246.5 694.5,1245.6 695.0,1244.9 695.6,1244.3 696.1,1243.2 696.7,1243.3 697.2,1247.0 697.8,1244.7 698.3,1241.0 698.9,1246.1 699.4,1251.6 700.0,1250.7 700.5,1239.4 701.1,1243.4 701.6,1249.1 702.0,1246.8 702.7,1246.9 703.3,1246.3 703.8,1247.1 704.4,1243.5 704.9,1251.1 705.5,1243.7 706.0,1246.8 706.6,1252.6 707.1,1251.2 707.7,1247.6 708.2,1247.7 708.8,1245.8 709.3,1246.3 709.9,1247.3 710.4,1252.7 711.0,1246.8 711.5,1250.3 712.1,1250.0 712.6,1250.0 713.2,1247.8 713.7,1251.3 714.3,1249.5 714.8,1249.4 715.4,1247.6 715.9,1242.0 716.5,1251.8 717.0,1252.0 717.6,1247.9 718.1,1249.1 718.7,1250.8 719.2,1246.6 719.8,1252.4 720.3,1252.5 720.9,1253.1 721.4,1253.5 722.0,1244.1 722.5,1252.4 723.1,1249.2 723.6,1254.6 724.2,1254.5 724.7,1253.9 725.3,1250.9 725.8,1260.8 726.4,1251.3 726.9,1248.1 727.5,1255.0 728.0,1247.0 728.6,1258.5 729.1,1255.5 729.7,1256.7 730.2,1255.9 730.8,1253.8 731.3,1248.1 731.9,1250.6 732.4,1254.6 733.0,1252.1 733.5,1254.1 734.1,1250.7 734.6,1250.4 735.2,1254.1 735.7,1255.6 736.0,1253.2 736.3,1249.9 736.8,1247.6 737.4,1260.1 737.9,1249.4 738.5,1250.4 739.0,1250.9 739.6,1256.4 740.1,1250.8 740.7,1255.3 741.2,1254.4 741.8,1249.6 742.3,1254.0 742.9,1249.4 743.4,1253.0 744.0,1256.1 744.5,1252.8 745.1,1250.5 745.6,1252.2 746.2,1253.0 746.7,1254.8 747.3,1246.0 747.8,1247.5 748.4,1255.4 748.9,1253.4 749.5,1253.8 750.0,1254.5 750.6,1253.3 751.1,1252.3 751.7,1254.2 752.2,1256.1 752.8,1255.0 753.3,1254.0 753.9,1250.4 754.4,1254.7 755.0,1250.0 755.5,1251.7 756.1,1254.5 756.6,1254.4 757.2,1257.7 757.7,1257.0 758.3,1255.7 758.8,1253.0 759.4,1254.0 759.9,1253.3 760.5,1259.9 761.0,1255.7 761.6,1252.0 762.1,1251.3 762.7,1258.4 763.2,1251.3 763.8,1255.5 764.3,1254.8 764.9,1257.8 765.4,1251.3 766.0,1255.8 766.5,1255.0 767.1,1257.0 767.6,1258.9 768.2,1254.7 768.7,1253.6 769.3,1257.3 769.8,1249.7 770.4,1255.0 770.9,1251.1 771.5,1250.4 772.0,1249.1 772.6,1248.9 773.1,1257.3 773.7,1257.4 774.2,1254.9 774.8,1258.0 775.3,1254.6 775.9,1252.9 776.4,1250.9 777.0,1257.2 777.5,1257.3 778.1,1258.9 778.6,1251.9 779.2,1253.7 779.7,1250.1 780.3,1258.5 780.8,1257.1 781.4,1256.4 781.9,1254.7 782.5,1254.2 783.0,1253.5 783.6,1258.4 784.1,1252.7 784.7,1257.8 785.2,1255.8 785.8,1251.5 786.3,1250.0 786.9,1252.2 787.4,1254.7 788.0,1250.5 788.5,1257.0 789.1,1258.7 789.6,1256.8 790.2,1249.3 790.7,1247.1 791.3,1257.9 791.8,1260.0 792.4,1253.7 792.9,1256.8 793.5,1254.1 794.0,1252.9 794.6,1258.4 795.1,1253.2 795.7,1257.9 796.2,1260.9 796.8,1254.7 797.3,1261.4 797.9,1250.7 798.4,1258.2 799.0,1255.2 799.5,1263.8 800.1,1255.3 800.6,1252.5 801.2,1260.7 801.7,1250.1 802.3,1256.7 802.8,1252.7 803.4,1259.9 803.9,1254.9 804.5,1258.2 805.0,1255.2 805.6,1251.6 806.1,1248.1 806.7,1261.4 807.2,1256.1 807.8,1251.5 808.3,1254.3 808.9,1258.7 809.4,1250.4 810.0,1263.1 810.5,1254.6 811.1,1254.2 811.6,1259.8 812.2,1256.2 812.7,1252.1 813.3,1258.6 813.8,1257.0 814.4,1259.3 814.9,1252.4 815.5,1251.7 816.0,1257.6 816.6,1254.1 817.1,1248.2 817.7,1253.6 818.2,1257.7 818.8,1253.1 819.3,1259.9 819.9,1253.9 820.4,1255.3 821.0,1250.1 821.5,1252.9 822.1,1255.0 822.6,1257.6 823.2,1256.3 823.7,1259.2 824.3,1248.3 824.8,1255.7 825.4,1255.2 825.9,1252.1 826.5,1255.5 827.0,1253.2 827.6,1257.2 828.1,1254.5 828.7,1257.4 829.2,1252.6 829.8,1260.1 830.3,1257.1 830.9,1261.8 831.4,1255.3 832.0,1254.1 832.5,1256.3 833.1,1254.2 833.6,1252.3 834.2,1255.9 834.7,1255.6 835.3,1253.6 835.8,1254.5 836.4,1252.5 836.9,1256.4 837.5,1251.3 838.0,1261.6 838.6,1256.0 839.1,1259.1 839.7,1251.8 840.2,1257.1 840.8,1255.5 841.3,1259.3 841.9,1258.9 842.4,1250.4 843.0,1259.9 843.5,1250.9 844.1,1260.5 844.6,1255.8 845.2,1251.9 845.7,1258.4 846.3,1256.1 846.8,1252.6" fill="none" stroke="#008000" stroke-width="2.5" stroke-linejoin="round"/>
<text x="30.3" y="776.0" font-size="46" font-weight="bold" font-style="normal" text-anchor="start">b)</text>
<text transform="translate(71.1,1151.4) rotate(-90)" font-size="44.3" font-weight="bold">Intensity (a.u.)</text>
<text x="290.5" y="1427.2" font-size="44.2" font-weight="bold" font-style="normal" text-anchor="start">Raman shift (cm</text>
<text x="634.7" y="1408.8" font-size="29" font-weight="bold" font-style="normal" text-anchor="start">-1</text>
<text x="661.1" y="1427.2" font-size="44.2" font-weight="bold" font-style="normal" text-anchor="start">)</text>
<text x="150.3" y="1353.5" font-size="40.7" font-weight="normal" font-style="normal" text-anchor="middle">70</text>
<text x="219.8" y="1353.5" font-size="40.7" font-weight="normal" font-style="normal" text-anchor="middle">140</text>
<text x="354.8" y="1353.5" font-size="40.7" font-weight="normal" font-style="normal" text-anchor="middle">1200</text>
<text x="519.1" y="1353.5" font-size="40.7" font-weight="normal" font-style="normal" text-anchor="middle">1400</text>
<text x="683.4" y="1353.5" font-size="40.7" font-weight="normal" font-style="normal" text-anchor="middle">1600</text>
<text x="847.7" y="1353.5" font-size="40.7" font-weight="normal" font-style="normal" text-anchor="middle">1800</text>
<text x="475.8" y="789.0" font-size="42.5" font-weight="normal" font-style="normal" text-anchor="start">2D Sb</text>
<text x="594.2" y="799.8" font-size="29" font-weight="normal" font-style="normal" text-anchor="start">ex</text>
<rect x="627.2" y="774.2" width="16.3" height="2.6" fill="#000"/>
<text x="645.4" y="789.0" font-size="42.5" font-weight="normal" font-style="normal" text-anchor="start">SPCNFE</text>
<text transform="translate(168.0,1022.3) scale(1,1.05)" font-size="43" font-weight="normal" font-style="italic" text-anchor="start">E</text>
<text x="194.9" y="1034.5" font-size="29.5" font-weight="normal" font-style="normal" text-anchor="start">g</text>
<text transform="translate(234.5,780.7) scale(1,1.06)" font-size="42" font-weight="normal" font-style="italic" text-anchor="start">A</text>
<text x="263.1" y="792.0" font-size="29.5" font-weight="normal" font-style="normal" text-anchor="start">1g</text>
<rect x="375.5" y="821.2" width="386.8" height="311.0" fill="none" stroke="#000" stroke-width="1.5"/>
<path d="M440.0,821.2 v3.5 M440.0,1132.2 v-3.5 M504.4,821.2 v6 M504.4,1132.2 v-6 M568.9,821.2 v3.5 M568.9,1132.2 v-3.5 M633.4,821.2 v6 M633.4,1132.2 v-6 M697.9,821.2 v3.5 M697.9,1132.2 v-3.5 M375.5,852.3 h3.5 M762.3,852.3 h-3.5 M375.5,883.4 h6 M762.3,883.4 h-6 M375.5,914.5 h3.5 M762.3,914.5 h-3.5 M375.5,945.6 h6 M762.3,945.6 h-6 M375.5,976.7 h3.5 M762.3,976.7 h-3.5 M375.5,1007.8 h6 M762.3,1007.8 h-6 M375.5,1038.9 h3.5 M762.3,1038.9 h-3.5 M375.5,1070.0 h6 M762.3,1070.0 h-6 M375.5,1101.1 h3.5 M762.3,1101.1 h-3.5" stroke="#000" stroke-width="1.5" fill="none"/>
<polyline points="376.3,1003.1 376.8,1012.9 377.3,998.1 377.8,1002.2 378.3,1024.1 378.8,1003.1 379.3,1012.3 379.8,1012.9 380.3,1017.1 380.8,1016.4 381.3,989.2 381.8,1005.6 382.3,1019.0 382.8,1003.2 383.3,1024.2 383.8,1011.6 384.3,999.8 384.8,1014.2 385.3,1025.3 385.8,1004.3 386.3,1014.2 386.8,1002.6 387.3,1005.1 387.8,1010.7 388.3,1013.9 388.8,1012.7 389.3,1011.5 389.8,1029.2 390.3,1001.2 390.8,994.9 391.3,1014.4 391.8,1011.4 392.3,998.4 392.8,1023.8 393.3,1004.3 393.8,998.6 394.3,1013.4 394.8,1015.2 395.3,1029.0 395.8,997.6 396.3,999.8 396.8,1007.8 397.3,1006.5 397.8,1009.4 398.3,1004.3 398.8,997.5 399.3,1006.4 399.8,1015.8 400.3,1016.4 400.8,1004.7 401.3,1014.4 401.8,1013.4 402.3,1006.1 402.8,1007.2 403.3,1010.4 403.8,1032.6 404.3,1011.3 404.8,1002.8 405.3,1008.7 405.8,1005.5 406.3,1019.1 406.8,992.5 407.3,1001.1 407.8,1016.6 408.3,1013.3 408.8,1010.1 409.3,1015.6 409.8,999.1 410.3,1012.7 410.8,1000.5 411.3,999.3 411.8,1013.7 412.3,1003.2 412.8,1006.7 413.3,1014.7 413.8,1001.1 414.3,1014.5 414.8,1027.7 415.3,1007.9 415.8,1017.2 416.3,1015.6 416.8,999.1 417.3,998.3 417.8,1009.3 418.3,992.0 418.8,1009.6 419.3,1011.3 419.8,1012.9 420.3,1012.7 420.8,1019.8 421.3,1006.3 421.8,1019.8 422.3,1013.1 422.8,1013.0 423.3,1007.3 423.8,1016.2 424.3,1002.3 424.8,1014.1 425.3,1017.1 425.8,1002.5 426.3,1000.0 426.8,1001.4 427.3,1007.0 427.8,1010.1 428.3,1014.1 428.8,1022.1 429.3,1019.7 429.8,1008.6 430.3,1003.0 430.8,996.1 431.3,1012.3 431.8,1009.6 432.3,1002.9 432.8,1003.6 433.3,1003.7 433.8,983.5 434.3,1003.7 434.8,1006.5 435.3,1002.6 435.8,994.8 436.3,1003.5 436.8,1006.7 437.3,1017.2 437.8,1010.9 438.3,1006.9 438.8,1001.4 439.3,990.7 439.8,997.5 440.3,990.0 440.8,1000.0 441.3,1009.2 441.8,1008.8 442.3,1007.4 442.8,1000.0 443.3,1007.5 443.8,997.0 444.3,983.0 444.8,999.7 445.3,998.6 445.8,983.8 446.3,993.3 446.8,977.4 447.3,993.0 447.8,1006.3 448.3,990.8 448.8,1006.3 449.3,997.1 449.8,988.9 450.3,980.1 450.8,1000.1 451.3,999.0 451.8,981.2 452.3,989.4 452.8,1001.4 453.3,985.9 453.8,994.8 454.3,975.4 454.8,983.3 455.3,996.2 455.8,980.4 456.3,977.9 456.8,977.9 457.3,985.7 457.8,975.7 458.3,987.2 458.8,992.3 459.3,999.8 459.8,983.8 460.3,999.9 460.8,991.0 461.3,984.4 461.8,990.1 462.3,998.0 462.8,997.6 463.3,991.3 463.8,984.3 464.3,991.6 464.8,986.4 465.3,985.9 465.8,986.5 466.3,999.0 466.8,974.5 467.3,983.6 467.8,975.3 468.3,991.2 468.8,993.2 469.3,995.2 469.8,981.4 470.3,984.7 470.8,990.6 471.3,985.9 471.8,986.8 472.3,986.1 472.8,986.8 473.3,983.7 473.8,988.3 474.3,973.0 474.8,981.5 475.3,974.3 475.8,984.4 476.3,979.3 476.8,989.7 477.3,995.7 477.8,975.6 478.3,979.5 478.8,988.6 479.3,997.8 479.8,992.5 480.3,990.0 480.8,986.1 481.3,983.2 481.8,990.0 482.3,991.2 482.8,988.6 483.3,982.8 483.8,974.7 484.3,981.0 484.8,985.0 485.3,978.8 485.8,991.1 486.3,977.1 486.8,986.4 487.3,991.9 487.8,995.8 488.3,991.4 488.8,999.5 489.3,985.1 489.8,983.9 490.3,999.2 490.8,983.5 491.3,989.7 491.8,977.4 492.3,1000.9 492.8,998.1 493.3,986.8 493.8,979.3 494.3,996.0 494.8,996.7 495.3,1004.5 495.8,1010.6 496.3,998.1 496.8,995.0 497.3,995.4 497.8,995.4 498.3,987.3 498.8,991.5 499.3,998.5 499.8,986.3 500.3,989.2 500.8,1009.9 501.3,994.9 501.8,1006.9 502.3,1009.5 502.8,1000.9 503.3,1007.7 503.8,999.7 504.3,994.3 504.8,1000.6 505.3,1002.2 505.8,1002.8 506.3,1002.6 506.8,999.0 507.3,1010.9 507.8,1000.9 508.3,999.3 508.8,1010.2 509.3,994.8 509.8,1003.0 510.3,1015.0 510.8,1003.8 511.3,1014.9 511.8,1001.5 512.3,999.6 512.8,1002.5 513.3,999.4 513.8,1001.2 514.3,1000.6 514.8,1010.7 515.3,1007.6 515.8,1002.8 516.3,998.6 516.8,1030.5 517.3,1003.2 517.8,1016.2 518.3,995.5 518.8,999.1 519.3,1015.0 519.8,996.4 520.3,996.7 520.8,1004.9 521.3,999.6 521.8,1003.2 522.3,1006.8 522.8,1012.6 523.3,1007.2 523.8,1008.1 524.3,1016.5 524.8,1017.3 525.3,1003.1 525.8,991.1 526.3,998.0 526.8,1014.7 527.3,1002.3 527.8,1000.5 528.3,1002.6 528.8,1019.1 529.3,1006.8 529.8,1003.3 530.3,1000.7 530.8,997.6 531.3,1029.1 531.8,1006.1 532.3,1007.7 532.8,1004.0 533.3,1015.1 533.8,998.5 534.3,991.2 534.8,1002.0 535.3,1009.3 535.8,1024.9 536.3,1006.1 536.8,999.8 537.3,1004.9 537.8,1000.5 538.3,1000.5 538.8,1007.6 539.3,1009.2 539.8,1001.6 540.3,1015.7 540.8,1006.3 541.3,1007.9 541.8,1002.8 542.3,1010.0 542.8,1010.3 543.3,1012.4 543.8,1000.5 544.3,1012.2 544.8,1002.5 545.3,1007.9 545.8,1013.1 546.3,1019.4 546.8,1003.6 547.3,998.3 547.8,1008.4 548.3,1017.1 548.8,1004.6 549.3,1026.8 549.8,992.1 550.3,1019.4 550.8,1016.7 551.3,1016.3 551.8,1000.7 552.3,1018.3 552.8,1016.8 553.3,1017.5 553.8,1005.6 554.3,1005.5 554.8,1017.9 555.3,1010.2 555.8,1004.5 556.3,1000.7 556.8,1009.6 557.3,996.5 557.8,1012.1 558.3,1008.7 558.8,995.0 559.3,1011.1 559.8,1017.2 560.3,1009.5 560.8,996.8 561.3,1002.6 561.8,1014.2 562.3,997.0 562.8,1004.4 563.3,1016.6 563.8,1005.1 564.3,1002.7 564.8,1013.8 565.3,1020.3 565.8,1010.5 566.3,996.6 566.8,994.3 567.3,1005.2 567.8,992.6 568.3,1006.5 568.8,1014.5 569.3,985.7 569.8,1005.6 570.3,1009.6 570.8,1002.6 571.3,1010.1 571.8,1010.9 572.3,1015.3 572.8,1028.6 573.3,1009.4 573.8,999.5 574.3,998.4 574.8,996.7 575.3,1012.3 575.8,1009.3 576.3,1010.2 576.8,1008.0 577.3,1019.3 577.8,1015.2 578.3,1014.4 578.8,1000.7 579.3,1003.5 579.8,995.6 580.3,1000.8 580.8,1006.7 581.3,996.0 581.8,1000.7 582.3,1022.1 582.8,1004.2 583.3,993.5 583.8,995.5 584.3,1004.8 584.8,1012.2 585.3,1004.6 585.8,1012.3 586.3,1007.7 586.8,996.1 587.3,1013.3 587.8,1001.1 588.3,1019.9 588.8,999.8 589.3,1003.2 589.8,999.8 590.3,1001.8 590.8,1007.5 591.3,1002.1 591.8,1012.9 592.3,1006.6 592.8,1015.7 593.3,1003.2 593.8,1012.8 594.3,1011.8 594.8,1000.7 595.3,1022.0 595.8,1013.4 596.3,1005.3 596.8,999.0 597.3,999.6 597.8,998.5 598.3,1001.7 598.8,989.8 599.3,998.8 599.8,992.8 600.3,1010.4 600.8,1002.5 601.3,1009.0 601.8,1013.9 602.3,997.7 602.8,1009.2 603.3,995.0 603.8,996.1 604.3,982.4 604.8,989.7 605.3,999.5 605.8,990.7 606.3,982.3 606.8,983.9 607.3,976.3 607.8,975.1 608.3,967.2 608.8,985.9 609.3,983.9 609.8,972.3 610.3,960.4 610.8,967.5 611.3,983.6 611.8,954.5 612.3,958.6 612.8,956.2 613.3,963.6 613.8,944.2 614.3,953.9 614.8,942.7 615.3,944.4 615.8,935.7 616.3,948.6 616.8,939.7 617.3,939.0 617.8,953.0 618.3,947.7 618.8,965.0 619.3,950.7 619.8,949.5 620.3,951.4 620.8,974.2 621.3,963.8 621.8,953.1 622.3,959.4 622.8,954.0 623.3,964.7 623.8,956.5 624.3,957.3 624.8,966.5 625.3,975.0 625.8,972.2 626.3,972.5 626.8,968.0 627.3,949.4 627.8,968.6 628.3,969.4 628.8,976.4 629.3,987.2 629.8,980.2 630.3,961.0 630.8,976.0 631.3,974.7 631.8,983.1 632.3,977.5 632.8,963.2 633.3,971.9 633.8,977.2 634.3,963.9 634.8,980.0 635.3,979.2 635.8,990.7 636.3,981.6 636.8,978.0 637.3,982.5 637.8,984.1 638.3,992.3 638.8,977.2 639.3,967.1 639.8,1008.0 640.3,992.2 640.8,986.8 641.3,1006.5 641.8,978.0 642.3,981.2 642.8,984.4 643.3,992.3 643.8,984.9 644.3,995.3 644.8,986.4 645.3,1000.1 645.8,993.6 646.3,976.7 646.8,990.2 647.3,981.5 647.8,989.9 648.3,991.2 648.8,1009.7 649.3,989.9 649.8,978.9 650.3,993.1 650.8,983.0 651.3,1007.5 651.8,998.7 652.3,1005.9 652.8,990.2 653.3,985.1 653.8,996.2 654.3,982.9 654.8,986.4 655.3,988.3 655.8,993.5 656.3,982.5 656.8,978.3 657.3,1006.9 657.8,991.0 658.3,994.1 658.8,1000.7 659.3,999.6 659.8,990.9 660.3,992.8 660.8,1009.8 661.3,1007.1 661.8,1003.1 662.3,1010.8 662.8,982.1 663.3,998.7 663.8,995.6 664.3,982.4 664.8,1001.1 665.3,1003.8 665.8,1000.8 666.3,984.2 666.8,997.4 667.3,1001.1 667.8,997.6 668.3,1002.1 668.8,1004.1 669.3,1011.8 669.8,1002.4 670.3,1022.2 670.8,1002.7 671.3,1003.5 671.8,1007.7 672.3,1001.0 672.8,999.2 673.3,1012.1 673.8,984.8 674.3,988.0 674.8,1019.6 675.3,1008.9 675.8,1007.5 676.3,1005.8 676.8,1005.8 677.3,996.0 677.8,1001.6 678.3,995.8 678.8,1013.8 679.3,1009.7 679.8,1006.7 680.3,1008.1 680.8,1004.0 681.3,995.9 681.8,1019.4 682.3,1011.0 682.8,1004.4 683.3,1010.8 683.8,1016.5 684.3,1015.9 684.8,1011.9 685.3,1013.3 685.8,1004.9 686.3,1017.9 686.8,1014.7 687.3,1014.9 687.8,996.6 688.3,1012.6 688.8,1012.9 689.3,1014.1 689.8,986.4 690.3,992.4 690.8,1010.0 691.3,1000.1 691.8,1011.0 692.3,1007.2 692.8,1015.0 693.3,1003.4 693.8,999.4 694.3,1012.4 694.8,1005.9 695.3,998.6 695.8,992.0 696.3,1034.1 696.8,1005.4 697.3,1006.4 697.8,992.4 698.3,1000.2 698.8,1007.2 699.3,1011.3 699.8,1015.0 700.3,1002.6 700.8,1012.7 701.3,1018.2 701.8,1004.6 702.3,1008.3 702.8,994.1 703.3,1002.3 703.8,997.7 704.3,1014.6 704.8,1007.6 705.3,1022.2 705.8,1010.7 706.3,1015.8 706.8,1013.5 707.3,1011.0 707.8,1000.6 708.3,1023.0 708.8,1008.7 709.3,994.4 709.8,1004.8 710.3,1000.5 710.8,1019.3 711.3,1018.3 711.8,1022.3 712.3,1027.8 712.8,1004.4 713.3,994.3 713.8,1002.1 714.3,1013.3 714.8,987.6 715.3,1005.0 715.8,1017.0 716.3,1003.0 716.8,1009.1 717.3,1002.6 717.8,1024.6 718.3,1026.4 718.8,1001.8 719.3,1003.3 719.8,1011.5 720.3,1016.2 720.8,1014.1 721.3,1016.1 721.8,1019.0 722.3,1021.0 722.8,1026.7 723.3,1012.7 723.8,1007.4 724.3,1010.8 724.8,1030.1 725.3,1018.6 725.8,1017.7 726.3,1023.0 726.8,1022.1 727.3,1031.5 727.8,1005.3 728.3,1013.7 728.8,1018.3 729.3,1018.9 729.8,1008.9 730.3,998.6 730.8,1009.9 731.3,1006.4 731.8,1011.3 732.3,1021.4 732.8,1018.1 733.3,1002.8 733.8,1006.0 734.3,1013.9 734.8,1021.8 735.3,1011.8 735.8,1014.2 736.3,999.8 736.8,1008.3 737.3,1005.8 737.8,1014.0 738.3,1010.1 738.8,1005.1 739.3,1003.3 739.8,1014.1 740.3,1006.9 740.8,1021.8 741.3,1013.6 741.8,1010.1 742.3,1019.9 742.8,1002.4 743.3,1020.0 743.8,1006.4 744.3,1018.5 744.8,1006.8 745.3,1004.6 745.8,997.1 746.3,1012.8 746.8,1016.5 747.3,1000.9 747.8,1027.3 748.3,1012.4 748.8,1003.2 749.3,1028.8 749.8,1009.2 750.3,1024.8 750.8,989.3 751.3,1030.6 751.8,1014.3 752.3,1012.7 752.8,1015.4 753.3,1003.2 753.8,1020.5 754.3,1016.5 754.8,1015.5 755.3,1008.2 755.8,1003.3 756.3,1015.9 756.8,1019.8 757.3,1014.1 757.8,1011.4 758.3,1008.7 758.8,1019.0 759.3,1025.1 759.8,1011.8 760.3,1006.1 760.8,1033.6 761.3,1000.3" fill="none" stroke="#008000" stroke-width="1.3" stroke-linejoin="round"/>
<text x="375.8" y="1160.8" font-size="25.8" font-weight="normal" font-style="normal" text-anchor="middle">1200</text>
<text x="504.7" y="1160.8" font-size="25.8" font-weight="normal" font-style="normal" text-anchor="middle">1400</text>
<text x="633.7" y="1160.8" font-size="25.8" font-weight="normal" font-style="normal" text-anchor="middle">1600</text>
<text x="762.6" y="1160.8" font-size="25.8" font-weight="normal" font-style="normal" text-anchor="middle">1800</text>
<text x="440.4" y="1208.0" font-size="29.4" font-weight="bold" font-style="normal" text-anchor="start">Raman shift (cm</text>
<text x="670.6" y="1197.2" font-size="20.5" font-weight="bold" font-style="normal" text-anchor="start">-1</text>
<text x="687.0" y="1208.0" font-size="29.4" font-weight="bold" font-style="normal" text-anchor="start">)</text>
<text transform="translate(348.0,1066.1) rotate(-90)" font-size="29.3" font-weight="bold">Intensity (a.u.)</text>
<text x="418.9" y="955.3" font-size="29.7" font-weight="normal" font-style="normal" text-anchor="start">D band</text>
<text x="567.7" y="927.1" font-size="29.7" font-weight="normal" font-style="normal" text-anchor="start">G band</text>
</svg></body></html>
